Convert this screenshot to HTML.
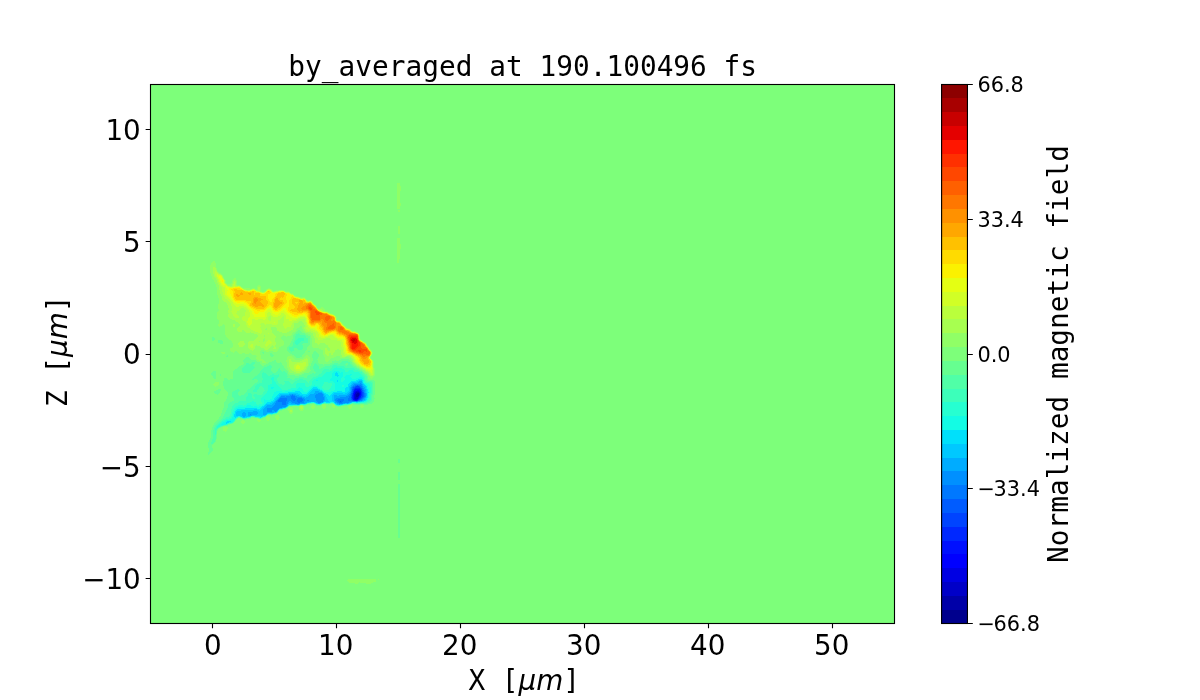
<!DOCTYPE html>
<html lang="en"><head><meta charset="utf-8"><title>by_averaged at 190.100496 fs</title>
<style>
html,body{margin:0;padding:0;background:#fff;}
body{width:1200px;height:700px;overflow:hidden;}
svg{display:block;}
text{fill:#000;}
.s{font-family:"DejaVu Sans","Liberation Sans",sans-serif;}
.m{font-family:"DejaVu Sans Mono","Liberation Mono",monospace;}
.i{font-family:"DejaVu Sans","Liberation Sans",sans-serif;font-style:italic;}
.t20{font-size:27.78px;}
.t15{font-size:20.83px;}
</style></head><body>
<svg width="1200" height="700" viewBox="0 0 1200 700">
<rect x="0" y="0" width="1200" height="700" fill="#ffffff"/>
<rect x="150" y="84" width="744" height="539" fill="#7dff7a"/>
<g shape-rendering="crispEdges" fill-rule="evenodd">
<path fill="#90ff66" d="M213.4 261l.6-.3 .7 .3 .3 .2 .2 .8 .3 1 .2 1 .1 1 0 1 .1 1 .1 .1 .7 .9 .3 1 .4 1 .2 1 .4 .9 .1 .1 .9 .9 .2 .1 .8 .3 1 .4 .5 .3 .5 .2 .9 .8 .1 .3 .4 .7 .1 1 .4 1 .1 .1 .9 .9 .1 .1 .6 .9 .2 1 .1 1 .1 .5 .4 .5 .6 .7 .5 .3 .5 .3 1 .3 1-.4 .5-.2 .5-.3 .6-.7 .4-.7 .1-.3 .2-1 .3-1 .4-.7 .2-.3 .8-1 .1 0 .9-.1 .1 .1 .8 1 .1 .1 .4 .9 .3 1 .1 1 .1 1 0 1 .1 .8 .2 .2 .8 .1 1 0 1 .2 .8 .7 .2 .1 .9 .9 .1 .1 1 .4 1 .1 1 .2 .7 .2 .3 .1 1 .3 1-.1 1 0 1 .3 1 .2 1-.3 1-.3 1 0 1 .3 .6 .5 .4 .2 1 .1 .1-.3 0-1 0-1 .3-1 .6-.9 .2-.1 .8-.5 .9 .5 .1 0 .7 1 .3 .9 .1 .1 .3 1 0 1-.3 1-.1 .6 0 .4 1 .7 1 .2 1-.3 1-.5 .1-.1 .9-1 .9-1 .1-.1 1-.7 1-.1 1 .1 1 .7 .1 .1 .9 .8 .2 .2 .8 .6 .7 .4 .3 0 .4 0 .6-.3 1-.3 1-.1 1-.1 1-.1 .8-.1 .2 0 1-.3 1-.1 1 .1 .5 .3 .5 .1 1 .7 .2 .2 .8 .2 1 0 1 0 1 .1 .9 .7 .1 .1 1 .9 1 .2 1 .2 .8 .6 .2 .2 .8 .8 .2 .2 1 .5 .6 .3 .4 .1 1 .1 1 .3 .9 .5 .1 0 1 .3 1 .2 1-.1 1-.1 1 .3 .4 .4 .6 .5 .5 .5 .5 1 0 .1 1 .6 1-.2 1-.2 1-.1 1 .6 .2 .2 .7 1 .1 .1 .6 .9 .4 .5 .5 .5 .5 .3 .7 .7 .3 .4 .5 .6 .5 1 0 .1 .9 .9 .1 .1 1 .3 1-.4 1-.6 1-.2 1 .1 1 .6 .1 .1 .7 1 .2 .9 0 .1 .7 1 .3 0 1 .2 1 .3 .7 .5 .3 .1 1 .6 .4 .3 .6 .2 1 .4 .7 .4 .3 .1 1 .2 .9 .7 .1 .1 .9 .9 .1 .3 .5 .7 .2 1 .1 1 .1 1 .1 .1 1 .1 1 .1 1 .2 .6 .5 .4 .2 .8 .8 .2 .6 .4 .4 .5 1 .1 .2 1 .6 .3 .2 .7 .3 .7 .7 .3 .4 .7 .6 .3 .3 1 .7 1 .1 1 .3 .8 .6 .2 .1 .8 .9 .2 .2 1 .7 .4 .1 .6 0 1 .1 1 .3 1 .6 1 .3 .8 .7 .2 .2 .7 .8 .2 1 .1 1 0 1 0 1 0 .3 .3 .7 .7 .9 .2 .1 .8 .3 .9 .7 .1 .1 1 .5 .6 .4 .4 .1 1 .5 .4 .4 .6 .9 .1 .1 .5 1 .4 1 1 1 .8 1 .2 .6 .3 .4 .7 .9 .1 .1 .9 1 0 .1 .7 .9 0 1 0 1-.4 1-.3 .4-.2 .6-.8 .9-.1 .1 0 1 .1 .1 1 .9 .9 1 .1 .2 .5 .8 .2 1 .1 1-.1 1-.1 1-.1 1 .3 1 .2 .3 .6 .7 .2 1 0 1-.1 1 0 1 0 1 .1 1-.1 1-.3 1-.4 .5-.3 .5-.5 1-.2 .2-1 .5-1-.1-.7-.6-.3-.7-.1-.3-.5-1-.4-.4-.5-.6-.5-.6-.4-.4-.6-.7-.4-.3-.6-.5-.7-.5-.3-.2-.9-.8-.1-.1-1-.8-.2-.1-.8-.5-1-.5-1-.7-.5-.3-.5-.3-1-.6-.2-.1-.8-.5-.7-.5-.3-.2-.9-.8-.1-.1-1-.9-.9-1-.1-.2-.4-.8-.5-1-.1-.3-.4-.7-.6-1-1-1-1-.5-1-.4-1 0-1 .3-1 .1-1 .3-.5 .2-.5 .2-1-.1-1 0-.2-.1-.8-1 0-.1-.7-.9-.3-.3-1 .2-.5 .1-.5 .1-1 .3-1 .6-1 .9-.2 .1-.8 .3-1 .1-1 .2-.4 .4-.6 .7-.2 .3-.8 1-1 .6-1 .2-1-.2-1-.6-.2-1 .1-1-.1-1-.4-1-.4-.7-.1-.3-.3-1-.3-1-.1-1 0-1-.1-1-.1-.2-.8-.8-.2-.2-1-.3-1-.5-1-.6-1-.2-1-.1-.8-.1-.2-.1-1 .1-.8 0-.2 0-1-.5-.5-.5-.5-.6-.2-.4-.2-1 .1-1 .1-1-.1-1-.2-1 0-1 .1-1 0-1-.3-1-.3-.7-.1-.3-.5-1-.4-.5-.6-.5-.4-.2-1-.2-1-.2-.8-.4-.2-.1-1-.7-.2-.2-.8-.8-.3-.2-.7-.9 0-.1-.5-1-.1-1-.1-1-.3-.5-1-.4-1 .3-.9 .6-.1 .1-.9 .9-.1 .1-1 .8-.1 .1-.9 1-.5 1-.5 .5-.7 .5-.3 .1-1 .3-.8 .6-.2 .8 0 .2-.5 1-.5 .6-1 .2-1 .1-.4 .1-.6 .2-1 .4-1-.1-.7-.5-.3-.2-1-.5-1 .3-.5 .4-.5 .4-.6 .6-.2 1 .4 1 .4 .5 .7 .5 .3 .3 .7 .7 .3 .4 .3 .6 .1 1-.1 1-.3 .5-.4 .5-.6 .7-.6 .3-.4 .4-1 .1-1 0-.7 .5-.3 .5-.1 .5-.2 1-.4 1-.3 .4-.4 .6-.6 .6-.8 .4-.2 .1-1 .1-.7-.2-.3-.1-1-.4-.7-.5-.3-.2-1-.3-1 .4-.1 .1-.9 .6-1 .3-1 0-1-.2-1-.5-.5-.2-.5-.3-1-.5-1 0-1 .5-.6 .3-.3 1 0 1 .2 1 .2 1 .2 1 .2 1 0 1 .1 .2 1 .8 1 .7 .4 .3 .6 .4 1 .6 .7 1-.3 1-.4 .2-1 .3-1-.3-.2-.2-.7-1-.1-.3-.5-.7-.5-.5-1 .1-1-.1-1-.3-.4-.2-.6-.6-.4-.4-.3-1 .3-1 .3-1-.9-.9-1 .2-1 0-.6-.3-.4-.1-1-.7-.5-.2-.5-.3-1-.4-1 .2-.7 .5-.3 .1-1 .2-1-.2-.1-.1-.9-.6-.9-.4-.1 0-.5 0-.5 0-1 .5-1 .5-1 .1-.3-.1-.7-.3-.6-.7-.4-.6-.3-.4-.7-.7-1-.2-1 .5-.4 .4-.6 .6-1 .1-1-.4-.5-.3-.5-.3-1-.5-.3-.2-.3-1 .4-1 .2-.4 .7-.6 .3-.3 1 .1 .9-.8-.3-1 0-1 .1-1-.1-1-.3-1-.3-.7-.2-.3-.8-.7-.5-.3-.5-.2-1-.4-.9-.4-.1-.1-.8-.9-.2-.4-.3-.6-.7-1-.8-1-.2-.4-.3-.6-.2-1 .1-1 .1-1 .3-1 0-.1 .2-.9 .2-1-.1-1-.3-1-.7-1-.3-.5-1-.2-.9 .7-.1 .1-.7 .9-.3 .3-1 .4-1-.3-.6-.4-.4-1 .6-1 .4-.4 .4-.6 .1-1-.4-1-.1-.1-.6-.9-.4-.6-.4-.4-.5-1 0-1 .3-1 0-1-.3-1-.1-.6-.1-.4 .1-.3 .4-.7 .6-.4 .9-.6 .1-.5 .1-.5-.1-.1-.3-.9-.4-1-.3-1 0-.6 0-.4 0-.1 .1-.9 .3-1 .3-1 .2-1 .1-.6 0-.4 0-1-.2-1-.3-1-.4-1-.1-.5-.2-.5-.2-1-.3-1-.2-1-.1-.8-.1-.2-.1-1-.2-1 0-1-.1-1 0-1-.2-1-.3-.7-.2-.3-.5-1-.3-.9 0-.1-.4-1-.5-1-.1-.2-.6-.8-.4-.6-.3-.4-.5-1-.2-.5-.2-.5-.4-1-.3-1-.1-.3-.2-.7-.2-1-.2-1-.2-1-.2-1 0-1 .1-1 .1-1 .2-1 .1-1 .2-1 .3-.7 .2-.3 .7-1 .1 0 1-.8zM233 333.9l-.2 .1 .2 .3 .5-.3zM323 344.9l-.2 .1 .1 1 .1 .1 .3-.1 0-1zM221.2 352l.8-.3 1-.2 1 .1 1 .4 .2 1-.2 .2-.9 .8-.1 .1-.8-.1-.2 0-1-.7-.7-.3zM288.3 356l.7-.4 1 0 1 .4 1 .7 .5 .3 .5 .5 .5 .5 .5 .6 .3 .4 .7 .7 .3 .3 .7 .4 1 .1 1-.1 1-.3 .3-.1 .7-.3 1-.5 .5-.2 .5-.2 1-.4 .7-.4 .3-.3 .6-.7 .4-.7 .3-.3 .7-.6 1-.3 1 .2 .9 .7 .1 .1 .4 .9 .3 1 .3 .6 .3 .4 .3 1-.4 1-.2 .3-.3 .7-.2 1-.1 1-.3 1-.1 .3-.3 .7-.5 1-.2 .3-.4 .7-.3 1-.3 .6-.2 .4-.8 .9-.1 .1-.9 .5-1 .5-1 .5-1 .4-.2 .1-.8 .4-1 .4-.6 .2-.4 .2-1 .2-1 0-1-.3-.3-.1-.7-.3-1-.3-1-.1-1-.1-1-.1-.3-.1-.7-.3-.5-.7-.5-.9 0-.1-.5-1-.5-.9 0-.1-.5-1-.2-1-.1-1 0-1-.1-1-.1-.7-.1-.3-.3-1-.2-1 .1-1 .3-1 .2-1 .3-1 .7-.8zM218.1 382l.9-.1 .1 .1 .3 1-.2 1-.2 .3-.4 .7-.6 .5-.7 .5-.3 .1-1 .4-1 .1-1-.5-.1-.1-.5-1 0-1 .4-1 .2-.2 1-.4 1-.2 1-.1 1-.1zM312.5 405l.5-.2 .5 .2 .5 .3 .5 .7 .2 1-.2 1-.5 .7-.6 .3-.4 .2-.4-.2-.6-.3-.4-.7-.3-1 .2-1 .5-.7zM322.5 405l.5-.3 1-.6 1 .2 .9 .7 .1 .7 0 .3 0 .2-.1 .8-.5 1-.4 .4-1 .4-1-.4-.3-.4-.5-1-.1-1zM332.2 405l.8-.8 1 .6 .2 .2 .8 .9 .2 .1 .3 1-.5 .9-.3 .1-.7 .3-.6-.3-.4-.3-.5-.7-.3-1zM349.8 405l.2 0 1-.1 .7 .1 .3 .8 .1 .2-.1 .5-.1 .5-.5 1-.4 .4-1 .4-1-.4-.4-.4-.5-1-.1-1 1-.5zM360.8 405l.2-.1 1-.4 1 .3 .3 .2 .4 1-.2 1-.5 .7-.8 .3-.2 .1-.2-.1-.8-.3-.5-.7-.2-1zM299.9 406l.1 0 1-.5 1-.1 1 .4 .6 .2 .4 .9 .2 .1-.1 1-.1 .2-.1 .8-.5 1-.4 .5-.7 .5-.3 .2-1 0-.3-.2-.7-.4-.5-.6-.4-1-.1-.7-.1-.3 0-1 .1 0zM288.8 408l.2-.2 1-.4 1-.1 1 .2 .6 .5 .3 1 .1 .4 .1 .6 .1 1-.2 1 0 .1-.4 .9-.6 .8-.7 .2-.3 .1-.4-.1-.6-.2-.7-.8-.3-.7-.1-.3-.3-1-.2-1-.1-1zM276.4 415l.6-.2 1-.3 .7 .5 .3 .3 .4 .7 .2 1-.1 1-.3 1-.2 .4-.5 .6-.5 .4-1 0-.5-.4-.5-.5-.3-.5-.3-1 0-1 .2-1 .4-.6zM266.8 417l.2-.2 1-.7 1 .3 .5 .6 .4 1 0 1-.2 1-.7 1-1 .5-1-.4-.1-.1-.6-1-.2-1 0-1zM257.2 419l.8-.2 1 .1 .4 .1 .6 .4 1 .6-.3 1-.6 1-.1 .1-1 .4-1-.5-.7-1-.2-1zM242.2 420l.8 0 .3 0 .7 .4 .6 .6 .1 1-.2 1-.5 .7-.6 .3-.4 .2-.4-.2-.6-.3-.5-.7-.3-1 .1-1 .7-.9zM223.4 427l.6-.3 1-.3 1 0 1 .4 .4 .2 .3 1-.1 1-.4 1-.2 .3-.5 .7-.5 .5-1 .2-1-.4-.3-.3-.5-1-.2-.7-.1-.3-.1-1 .2-.2z"/>
<path fill="#a7ff50" d="M213.6 267l.4-.5 .3 .5 .7 .5 .3 .5 .7 .8 .1 .2 .3 1 .3 1 .3 .7 .2 .3 .8 1 1 .6 .6 .4 .4 .1 1 .2 1 .6 .1 .1 .6 1 .1 1 .2 .8 .1 .2 .9 .9 .1 .1 .7 1 .2 1 0 .2 .2 .8 .3 1 .5 .8 .2 .2 .8 .6 .5 .4 .5 .4 1 .6 .1 0 .9 .1 .9-.1 .1 0 1-.5 .2-.5 .4-1 .3-1 .1-.4 .1-.6 .4-1 .5-.8 1-.1 .5 .9 .3 1 .2 1 0 .6 0 .4 .1 1 .9 .9 1-.2 1-.1 .9 .4 .1 0 1 .9 .1 .1 .9 .7 .4 .3 .6 .3 1 .5 .4 .2 .6 .2 1 .5 1 .2 1 0 1 0 1 0 1-.3 1-.4 .7-.2 .3-.1 1-.1 .4 .2 .6 .2 1 .8 1 .4 1-.2 .3-.2-.2-1 0-1 .3-1 .6-.6 .6 .6 .4 .7 .1 .3 0 1-.1 .5-.2 .5 0 1 .2 .1 .9 .9 .1 .1 1 .2 1 0 1-.1 .7-.2 .3-.2 .9-.8 .1-.1 .8-.9 .2-.2 1-.7 .3-.1 .7-.3 .8 .3 .2 .1 1 .6 .3 .3 .7 .7 .3 .3 .7 .5 1 .1 1-.2 1-.2 1-.2 .4 0 .6-.2 1-.2 1-.2 1-.1 1-.1 1 .1 1 .5 .3 .2 .7 .4 1 .5 1 0 1-.1 .8 .2 .2 0 1 .8 .3 .2 .7 .6 1 .2 .4 .2 .6 .1 .9 .9 .1 .1 .9 .9 .1 .1 1 .3 1 .3 .9 .3 .1 0 1 .3 1 .4 .5 .3 .5 .1 1 .1 1-.1 1-.1 1 .3 .8 .7 .2 .4 .5 .6 .5 1 1 .2 1-.1 .8-.1 .2-.1 1 0 .1 .1 .9 .5 .4 .5 .5 1 .1 .2 .7 .8 .3 .2 1 .7 .1 .1 .8 1 .1 .1 .7 .9 .3 .5 .5 .5 .5 .8 .4 .2 .6 .3 1 0 1 0 1 .2 .5 .5 .5 .5 .3 .5 .7 .2 1 .3 1 .1 1 .3 .1 .1 .9 .2 1 .7 .1 .1 .9 .5 .7 .5 .3 .1 1 .2 1 .2 .8 .5 .2 0 1 .7 .3 .3 .6 1 .1 1 0 .3 .1 .7 .3 1 .6 .8 1 .1 .4 .1 .6 0 1 .2 1 .8 .8 1 .2 .8 .1 .2 .8 1 .1 0 1 .4 .8 .6 .2 .3 .6 .7 .4 .7 .4 .3 .6 .3 1 .3 1 .4 1 .2 .9 .8 .1 .1 .8 .9 .2 .1 1 .2 1 .1 1 .2 .6 .4 .4 .1 1 .3 .9 .6 .1 0 1 1 .6 1 .1 1 0 1 0 1 .2 1 .1 .3 .6 .7 .4 .2 1 .6 .3 .2 .7 .4 .7 .6 .3 .1 1 .4 .7 .5 .3 .3 .7 .7 .2 1 .1 .3 .5 .7 .5 .5 .5 .5 .5 .7 .2 .3 .5 1 .3 .5 .5 .5 .5 .5 .5 .5 .5 1 0 .8 0 .2 0 .3 0 .7-.2 1-.6 1-.2 .2-.5 .8-.2 1 .7 .7 .4 .3 .6 .6 .4 .4 .4 1 .2 1 0 .6 0 .4 0 .1 0 .9-.1 1-.1 1 .2 .9 .1 .1 .6 1 .3 1-.1 1-.2 1 0 1 .1 1 0 1-.1 1-.6 1-.1 .1-1 .4-1-.4-.1-.1-.9-.8-.2-.2-.8-.9-.1-.1-.7-1-.2-.2-.9-.8-.1-.1-1-.6-.4-.3-.6-.4-.8-.6-.2-.1-1-.7-.4-.2-.6-.3-1-.6-.1-.1-.9-.6-.7-.4-.3-.2-1-.7-.2-.1-.8-.6-.5-.4-.5-.4-.7-.6-.3-.3-.7-.7-.3-.5-.3-.5-.5-1-.2-.6-.2-.4-.5-1-.3-.4-.4-.6-.6-.6-.4-.4-.6-.4-1-.5-.1-.1-.9-.2-1 .2-.1 0-.9 .6-1 .1-.7 .3-.3 .1-1 .1-.5-.2-.5-.6-.2-.4-.2-1-.2-1-.1-1 0-1-.1-1-.2-.5-.5-.5-.5-.3-1-.2-1-.1-1 0-1 .5-.2 .1-.8 1 0 .1-.6 .9-.4 .8-.3 .2-.4 1-.2 1-.1 .2-1 .4-1-.4-.4-.2 .4-.7 .2-.3-.2-.4-.3-.6-.7-.4-1 .3 0 .1-.1 1 .1 .3 .6 .7-.5 1-.1 .1-1 .2-.4-.3-.6-.5-.6-.5-.4-.4-.4-.6-.2-1-.1-1-.2-1-.1-.4-.1-.6 0-1 .1-.2 .9-.8 .1 0 .2 0 .8 .4 .3 .6 .4 1 .3 .4 .9 .6 .1 .2 .1-.2 .9-.8 .1-.2 .5-1-.5-1-.1-.1-1-.6-.4-.3-.5-1-.1-.1-.8-.9-.2-.1-1-.8-.1-.1-.9-.5-1-.4-.5-.1-.5-.1-1-.1-.8 .2-.2 .1-1 .6-.5 .3-.5 .4-1 .3-.8-.7-.2-.1-1-.9-.2 0-.8-1 .3-1 .2-1-.3-1-.2-.2-.6-.8-.4-.6-.2-.4-.3-1-.1-1-.4-.8-.1-.2-.8-1-.1 0-1-.6-1-.3-1 .1-1 .1-1-.2-.1-.1-.9-.7-.3-.3-.7-.8-.2-.2-.5-1 0-1 .3-1 .2-1-.2-1-.4-1-.2-.5-.4-.5-.6-.6-.3-.4-.7-.9-.1-.1-.9-.4-1 .3-.1 .1-.9 1-.1 0-.9 .6-1 0-1 .1-1 .2-.1 .1-.9 .8-.2 .2-.2 1 0 1 .1 1-.2 1-.4 1-.1 .2-1 .8-1 .3-1 .5-.6 .2-.4 .3-.9 .7-.1 .1-1 .8-.5 .1-.5 0-.3 0-.7-.1-1-.1-1 0-1-.2-1-.5-.1-.1-.9-.4-1-.1-1-.3-.3-.2-.7-.8-.2-.2-.2-1-.1-1-.5-.3-1-.4-.7-.3-.3-.1-1-.1-1 .1-.3 .1-.7 .7-.3 .3-.1 1 .4 .4 .4 .6 .6 .8 .1 .2 .2 1 .3 1 .4 .4 .4 .6 .6 .8 .2 .2 .8 .7 .4 .3 .6 .8 .1 .2-.1 .5-.1 .5-.8 1-.1 .2-.2 .8 .2 1 0 .1 .4 .9 .3 1 .1 1-.2 1-.5 1 .3 1 .4 1-.3 1-.5 .5-1-.1-.5-.4-.2-1 .6-1 .1-.2 .7-.8-.7-.2-1-.6-1 .2-.8 .6-.2 .2-.6 .8-.4 .4-.5 .6-.5 .8-.1 .2-.9 .9-.3 .1-.7 .1-1 0-.2-.1-.8-.4-.9-.6-.1-.2-1-.7-1 .1-.5-.2-.5-.2-1-.8-1-1-1-.3-1-.2-1-.3-.6 .8-.3 1-.1 .1-.3 .9-.3 1-.4 .8-.2 .2-.8 .5-1 .1-1-.3-.5-.3-.5-.4-.8-.6-.2-.3-.8-.7-.2-1 .1-1-.1-.5-.2-.5-.5-1 .5-1 .2-.2 .4-.8 .6-.4 1-.3 1-.1 1 0 1-.1 .2-.1 .8-.5 .4-.5 .6-.9 .1-.1 .9-.9 .1-.1 .9-.8 .2-.2 .8-1 .1-1-.1-.1-1-.5-1-.1-.9-.3-.1 0-1-.5-.7-.5-.3-.1-1-.3-1-.1-1 0-1 .2-.7 .3-.3 .1-1 .2-.8-.3-.2-.2-.4-.8-.5-1-.1-.1-1-.8-.5-.1-.5-.1-.2 .1-.7 1-.1 .2-.7 .8-.3 .1-1 0-.4-.1-.6-.1-1-.4-.6-.5-.4-.6-.2-.4-.1-1 .3-.7 .2-.3 .8-.6 .7-.4 .3-.2 .7-.8 .1-1-.5-1-.3-.3-.8-.7-.2-.2-1-.7-.1-.1-.9-.8-.2-.2-.8-.5-.8-.5-.2-.1-1-.2-1-.3-1-.4-1-.4-.8-.6-.2-.1-.8-.9-.2-.8 0-.2 0-.1 .2-.9 .4-1 0-1-.2-1-.1-1 .1-1 .3-1 0-1-.4-1-.3-.8-.1-.2-.3-1-.5-1-.1-.3-.6-.7-.4-.3-1-.6-.3-.1-.7-.3-1-.7-.5-1-.2-1-.1-1-.2-.8-.1-.2-.4-1-.5-.9 0-.1-.6-1-.3-1-.1-.2-.2-.8-.2-1-.1-1 0-1-.2-1-.1-1-.2-1-.4-1-.5-1-.1-.2-.4-.8-.4-1-.2-.5-.2-.5-.4-1-.4-.8-.1-.2-.7-1-.2-.4-.4-.6-.5-1-.1-.3-.3-.7-.3-1-.2-1-.1-1-.1-.8 0-.2-.1-1 0-1 .1-1zM259 340.7l-.1 .3 .1 .2 .9 .8 .1 .1 .2-.1 .4-1-.6-.4zM264 334.9l-.1 .1-.3 1 .2 1 0 1-.5 1-.3 .5-.3 .5-.3 1 .6 .8 1 0 .5-.8 .3-1 0-1-.5-1 .4-1 .3-.2 .3-.8-.3-1 0-.1zM265 328.9l-.1 .1 0 1 .1 .2 1 .3 .8-.5 .2-.4 .4-.6-.4-.4-1-.2zM233 324l1-.5 .8 .5 .2 .1 .4 .9 .1 1-.5 .7-1 .1-1-.5-.2-.3-.1-1zM242.1 335l.9-.9 .5 .9-.5 .5zM241.3 341l.7-.3 1-.2 1 .4 .2 .1 0 1 .2 1 .6 1-.2 1-.8 .8-.1 .2-.9 .8-.8 .2-.2 0-.4 0-.6-.1-1-.1-1-.2-.4-.6-.1-1-.1-1 .2-1 .4-.5 .6-.5 .4-.2 1-.6zM289.2 359l.8-.9 .5 .9 .1 1 .4 .6 .3 .4 .7 .4 1 .5 .4 .1 .6 .2 1 .2 1-.1 1-.1 1-.2 .4 0 .6-.1 1-.2 1-.5 .4-.2 .6-.4 1-.5 .2-.1 .8-.3 1-.4 .6-.3 .4-.3 1-.4 .6 .7 0 1 0 1 .3 1 .1 .4 .1 .6 0 1-.1 .5-.2 .5-.5 1-.3 .4-.4 .6-.5 1-.1 .2-.4 .8-.6 1-1 .7-.4 .3-.6 .3-1 .4-.7 .3-.3 .1-1 .4-1 .3-.7 .2-.3 .1-.8-.1-.2 0-1-.5-.9-.5-.1-.1-1-.4-1-.3-.6-.2-.4-.4-.6-.6-.4-.5-.4-.5-.6-.7-.1-.3-.5-1-.4-.9 0-.1-.1-1 0-1 .1-.4 .1-.6 .2-1 0-1-.3-1zM323.8 405l.2-.1 .2 .1 .3 1-.5 .6-.5-.6zM300.7 406l.3-.2 1 0 .5 .2 .5 .9 0 .1 0 1 0 .1-.3 .9-.7 .7-1 .1-.7-.8-.3-.7-.1-.3 0-1 .1-.1zM349.5 406l.5-.3 .7 .3-.7 .8zM290.3 410l.7-.5 .5 .5 .4 1-.5 1-.4 .3-.4-.3-.6-1 0-.1zM224.6 428l.4-.5 .5 .5-.2 1-.3 .3-.2-.3z"/>
<path fill="#baff3c" d="M214.9 272l.1-.6 1-.1 .3 .7 .7 .7 .2 .3 .8 .6 .6 .4 .4 .2 1 .3 1 .3 .4 .2 .6 .5 .3 .5 .2 1 .2 1 .3 .5 .5 .5 .5 .5 .4 .5 .3 1 0 1 .3 1 0 .1 .6 .9 .4 .4 .7 .6 .3 .2 1 .8 .1 0 .9 .4 1 .2 1 0 1 0 1-.5 .1-.1 .2-1 .2-1 .2-1 .3-1 1 0 .3 1 .1 1 0 1 .1 1 .5 .3 1 0 1-.1 1-.1 1 .3 .7 .6 .3 .3 .8 .7 .2 .2 1 .6 .3 .2 .7 .3 1 .5 .3 .2 .7 .2 1 0 1 .1 1 0 1 0 1-.2 .3-.1 .7-.4 1-.4 1 0 1 .4 .6 .4 .4 .3 1 .6 .4 .1 .6 .1 1 .1 1 .5 .2 .3 .8 .4 1 .2 1 .1 1-.2 1-.3 .2-.2 .8-.7 .2-.3 .8-.8 .3-.2 .7-.6 1-.3 1 .3 .8 .6 .2 .2 .7 .8 .3 .3 1 .7 1 .1 .6-.1 .4-.1 1-.4 1-.2 1-.1 1-.2 .2 0 .8-.2 1-.1 1-.1 1 0 .6 .4 .4 .2 1 .6 .4 .2 .6 .2 1 .1 1-.1 1 .2 .7 .6 .3 .2 .9 .8 .1 .1 1 .1 1 .3 .5 .5 .5 .6 .4 .4 .6 .4 1 .4 .5 .2 .5 .1 1 .2 1 .4 .6 .3 .4 .2 1 .3 1 0 1-.2 1 0 1 .3 .4 .4 .6 .9 0 .1 .7 1 .3 .3 1 .2 1-.2 1-.1 1 0 .9 .8 .1 .1 .6 .9 .4 .8 .2 .2 .8 .5 .6 .5 .4 .3 .7 .7 .3 .5 .4 .5 .6 1 .8 1 .2 .2 1 .7 .4 .1 .6 .1 1 .3 .9 .6 .1 0 1 .4 1 .5 .6 .1 .4 0 1 .1 1 .1 1 .4 .6 .4 .4 .3 .9 .7 .1 0 1 .4 1 .2 1 .4 1 .3 .9 .7 .1 .1 .6 .9 .2 1 .1 1 .1 1 0 .1 .8 .9 .2 .1 1 .1 1 0 1 .3 .6 .5 .4 .4 .4 .6 .4 1 .2 .4 .5 .6 .5 .3 1 .5 .2 .2 .8 .8 .2 .2 .6 1 .2 .2 1 .6 .5 .2 .5 .1 1 .1 1 .4 .5 .4 .5 .6 .4 .4 .6 .4 1 .3 1 .1 .7 .2 .3 .1 1 .2 1 .5 .4 .2 .6 .3 .7 .7 .3 .6 .2 .4 .2 1 0 1 .1 1 .1 1 .4 .8 .1 .2 .9 .5 .8 .5 .2 .1 1 .7 .3 .2 .7 .3 1 .6 .2 .1 .8 .7 .3 .3 .4 1 .3 1 1 1 .9 1 .1 .3 .4 .7 .6 1 1 .9 .1 .1 .6 1 .1 1 0 1-.3 1-.5 .8-.1 .2-.8 1-.1 .3-.1 .7 .1 .1 .8 .9 .2 .1 .9 .9 .1 .1 .5 .9 .2 1 0 1 0 1-.2 1 0 1 .1 1 .4 .6 .3 .4 .2 1-.1 1-.2 1-.1 1 .1 1-.1 1-.1 .4-.7 .6-.3 .1-.3-.1-.7-.3-.8-.7-.2-.2-.5-.8-.5-.7-.3-.3-.7-.6-.6-.4-.4-.2-1-.5-.4-.3-.6-.3-1-.6-.1-.1-.9-.6-.7-.4-.3-.2-1-.6-.3-.2-.7-.4-.8-.6-.2-.1-1-.8-.1-.1-.9-.8-.3-.2-.7-.6-.5-.4-.5-.6-.3-.4-.5-1-.2-.5-.2-.5-.5-1-.3-.6-.3-.4-.7-1-1-1-1-.5-1-.3-1-.2-1 .4-1 .5-.9 .1-.1 0-.9-1-.1-.5-.1-.5-.6-1-.3-1-.2-1-.1-1-.2-1-.4-1-.1-.1-.9-.9-.1-.2-.3-.8 .1-1 .1-1 0-1-.4-1-.5-.4-1-.4-.6-.2-.4-.1-1-.3-1-.5-.2-.1-.8-.3-1-.1-1 .2-1 .1-1-.6-.3-.3-.7-.7-.3-.3-.7-.3-1 .1-1 .2-1 .4-.9 .6-.1 .1-1 .3-1 0-1 .3-.6 .3-.4 .2-1 .3-1-.4-.1-.1-.9-1-.8-1-.2-.3-.4-.7-.2-1 0-1 .1-1-.4-1-.1-.1-1-.6-.6-.3-.4-.2-1-.5-.5-.3-.5-.2-1-.3-1-.1-1 .1-1 .1-1-.5-.1-.1-.7-1 0-1 .4-1 .1-1-.4-1-.3-.8-.1-.2-.2-1-.2-1-.3-1-.2-.8-.1-.2-.7-1-.2-.1-1-.3-1 0-1 0-1 .3-.1 .1-.9 .5-.8 .5-.2 .2-1 .5-.8 .3-.2 .1-1 .2-1 .3-.6 .4-.4 .3-.5 .7-.5 .9 0 .1-.4 1-.2 1-.2 1-.2 .4-1 .2-.7-.6-.3-.2-1 0-.2 .2-.7 1-.1 .1-1 .6-1 .1-.9-.8-.1-.2-.2-.8-.3-1-.2-1-.1-1 .2-1 .3-1 0-1 .1-1 .2-.6 .1-.4 .2-1 0-1-.3-.7-1-.1-.6 .8-.4 .5-.4 .5-.6 1-1 .6-1 .2-.8 .2-.2 .3-.1 .7 .1 .9 0 .1 0 1 0 .1-.3 .9-.7 .9-.2 .1-.8 .4-1 .1-1-.2-1-.3-1-.4-1-.3-.9-.3-.1-.1-1-.1-1 0-.5 .2-.5 .2-1 .5-1 0-.9-.7-.1 0-1-1-1-.6-1 .4-.2 .2-.5 1 .2 1 .1 1-.1 1-.1 1 .5 1 .1 .1 .8 .9 .2 .6 .1 .4 0 1-.1 .3-.2 .7-.8 .9-1-.3-.9-.6-.1 0-1-.4-1-.3-1-.3-1-.5-1-.4-.2-.1-.8-.3-1-.4-.7-.3-.3-.2-.7-.8-.3-.4-.7-.6-.3-.1-1-.6-.3-.3-.7-.9 0-.1-.5-1-.3-1-.2-.9 0-.1-.4-1-.6-.8-.7-.2-.3-.1-1-.5-.3-.4-.4-1-.3-1 .1-1 .9-.5 .9-.5 .1 0 1-.8 .3-.2-.1-1 0-1 .5-1 .2-1-.3-1-.6-.9 0-.1-1-.9-.3-.1-.7-.3-1 .1-.5 .2-.5 .5-.6 .5-.4 .6-.5 .4-.5 .3-1 .7-1 .9-.1 .1-.5 1 0 1 .6 1 1 .7 .7 .3 .3 .4 .3 .6-.3 .3-.5 .7-.5 .3-1 .1-1-.2-.3-.2-.7-.6-.5-.4-.5-.7-.2-.3-.6-1-.2-.3-.3-.7-.7-1-.5-1-.1-1 .4-1 .2-.5 .3-.5-.1-1-.2-.8-.1-.2-.3-1-.3-1-.3-1-.8-1-.2-.2-.7-.8-.3-.3-.6-.7-.4-.4-.8-.6-.2-.2-1-.7-.1-.1-.8-1-.1-.1-.6-.9-.4-.6-.2-.4-.5-1-.3-.7-.1-.3-.3-1-.1-1 0-1 0-1 0-1-.4-1-.1-.2-.5-.8-.5-.5-.3-.5-.6-1-.1-.2-.4-.8-.6-1-.5-1-.4-1-.1-.5-.2-.5-.3-1-.5-1-.7-1-.3-.5-.3-.5-.4-1-.3-1 0-.2-.1-.8zM269 316l-.8 1-.1 1 .1 1 .5 1 .3 .5 .6 .5 .4 .4 .5-.4 .4-1 .1-1 0-.2 .1-.8-.1-1 0-.1-.8-.9-.2-.1zM282.7 330l.3-.2 .5 .2-.5 .2zM267.4 333l.6-.4 .7 .4-.2 1-.5 .2-.3-.2zM268.7 340l.3-.2 .6 .2 .4 .1 1 .9 .1 0 .8 1-.5 1-.4 .3-1 .7-1 .9-.1 .1-.9 1-1 .9-1 .1-.8-1-.2-1 .6-1 .4-.8 .1-.2 .5-1 .4-.6 .3-.4 .7-.7zM250.8 344l.2-.2 1-.5 1 .5 .1 .2 .3 1-.1 1-.2 1-.1 .2-.7 .8-.3 .2-.7-.2-.3-.2-.5-.8-.1-1 .1-1zM303.5 362l.5-.2 1 0 .3 .2 .7 .5 .4 .5 .2 1-.5 1-.1 .2-1 .8-.8 1-.2 1 0 .1-.4 .9-.6 .6-.4 .4-.6 .3-1 .4-1 .2-.2 .1-.8 .2-1 .2-1-.1-.6-.3-.4-.2-1-.7-.1-.1-.7-1-.2-1 0-.2 0-.8 0-.3 .1-.7 .5-1 .4-.4 1-.6 1-.4 1-.2 1-.1 1-.1 1-.2 1-.2 1-.5zM300.8 407l.2-.3 1 0 .2 .3 0 1-.2 .4-1 .1-.2-.5z"/>
<path fill="#d1ff26" d="M216.8 274l.2-.1 .2 .1 .8 .4 1 .3 1 .2 .4 .1 .6 .3 .8 .7 .2 .4 .1 .6 .2 1 .7 1 1 1 .3 1 .1 1 .1 1 .5 .9 .1 .1 .9 .9 .1 .1 .9 .7 .4 .3 .6 .5 1 .4 .4 .1 .6 .1 1 0 1 0 1 0 .5-.1 .5-.6 1 .2 1 .2 1-.1 1-.2 1-.1 1 .4 .2 .2 .8 .7 .4 .3 .6 .6 .6 .4 .4 .2 1 .4 .6 .4 .4 .2 1 .2 1 .1 1 0 1 .1 1 0 1-.2 1-.4 1-.5 1-.1 1 .5 .1 .1 .9 .7 .5 .3 .5 .2 1 .2 1 .2 .6 .4 .4 .2 1 .5 1 .3 1 0 .2 0 .8-.2 1-.3 .6-.5 .4-.4 .5-.6 .5-.5 .6-.5 .4-.3 1-.3 1 .3 .4 .3 .6 .6 .3 .4 .7 .7 .4 .3 .6 .3 1 .2 1-.3 .7-.2 .3-.1 1-.3 1-.1 1-.2 1-.1 1-.1 .5-.1 .5-.1 1 .1 1 .4 .8 .6 .2 .1 1 .4 1 0 1 0 1 .2 .4 .3 .6 .6 .4 .4 .6 .5 1 0 1 .3 .2 .2 .7 1 .1 .1 1 .7 .5 .2 .5 .2 1 .2 1 .2 .9 .4 .1 0 1 .4 1 .4 1 .1 1-.3 1-.1 1 .5 .8 1 .2 .4 .4 .6 .6 .7 1 .1 1-.3 1-.1 1 0 .7 .6 .3 .6 .3 .4 .6 1 .1 .2 1 .6 .2 .2 .8 .5 .4 .5 .6 .8 .1 .2 .7 1 .2 .3 .6 .7 .4 .6 .6 .4 .4 .2 1 .4 .9 .4 .1 0 1 .4 1 .6 1 .1 1 .1 1 0 1 .2 1 .5 .1 .1 .9 .6 .5 .4 .5 .3 1 .4 1 .2 .2 .1 .8 .2 1 .4 .6 .4 .4 .5 .4 .5 .2 1 .1 1 .1 1 .2 .6 .4 .4 .6 .3 1 .1 1 .1 1 .3 .2 .2 .8 .9 .1 .1 .5 1 .4 .9 .1 .1 .9 .6 .7 .4 .3 .1 .8 .9 .2 .3 .5 .7 .5 .5 .7 .5 .3 .1 1 .2 1 .2 1 .5 .1 0 .8 1 .1 .1 1 .6 .9 .3 .1 0 1 .1 1 .1 1 .4 .8 .4 .2 .1 1 .4 .5 .5 .5 1 0 .3 .2 .7 0 1 0 1 .2 1 .5 1 .1 .1 1 .6 .4 .3 .6 .3 .9 .7 .1 .1 1 .5 .7 .4 .3 .1 1 .9 0 .1 .4 .9 .4 1 .2 .3 .7 .7 .3 .2 .7 .8 .3 .9 .1 .1 .7 1 .2 .2 .8 .8 .2 .2 .5 .8 .2 1-.1 1-.3 1-.3 .4-.4 .6-.6 .8-.2 .2-.1 1 .3 .5 .5 .5 .5 .4 .6 .6 .4 .6 .2 .4 .3 1 0 1-.1 1-.2 1-.1 1 .2 1 .5 1 .2 .6 .1 .4-.1 .6-.2 .4-.6 1-.2 1 0 .8-1 0-.4-.8-.6-.5-.6-.5-.4-.2-1-.5-.5-.3-.5-.2-1-.5-.6-.3-.4-.2-1-.6-.4-.2-.6-.4-1-.6-1-.6-.6-.4-.4-.3-.9-.7-.1-.1-1-.9-1-.9-.1-.1-.9-.8-.2-.2-.7-1-.1-.3-.3-.7-.3-1-.4-.9-.1-.1-.6-1-.3-.3-.7-.7-.3-.2-1-.7-.2-.1-.8-.3-1-.1-1-.1-1 .2-1-.5-.2-.2-.6-1-.2-.3-.4-.7-.2-1-.1-1 .1-1-.1-1-.3-.7-.2-.3-.8-.7-.2-.3-.3-1 .1-1 .1-1-.1-1-.3-1-.3-.6-.9-.4-.1 0-1-.2-1-.1-1-.3-.7-.4-.3-.2-1-.7-.2-.1-.8-.7-.4-.3-.6-.8-.2-.2-.8-.7-1-.1-1 0-1 .2-1 .4-.5 .2-.5 .3-1 .5-.6 .2-.4 .2-1 .3-1 .3-1 0-1-.1-1-.1-1-.5-.2-.1-.8-.9-.1-.1-.3-1-.1-1-.4-1-.1-.2-.6-.8-.4-.4-.9-.6-.1 0-1-.6-.7-.4-.3-.2-1-.4-1-.2-.7-.2-.3-.1-1-.2-1-.6-.1-.1-.5-1-.3-1-.1-.1-.5-.9-.5-1-.4-1-.1-1-.1-1-.2-1-.2-.8-.1-.2-.5-1-.4-.4-1-.6-1-.1-1 .1-.2 0-.8 .2-1 .4-.7 .4-.3 .2-1 .4-.9 .4-.1 .1-1 .4-1 .2-1 0-1 .2-.2 .1-.8 .6-.6 .4-.4 .4-1 .1-.2-.5-.6-1-.2-.3-1-.6-1 .3-.7-.4-.1-1 .1-1-.3-.8-.1-.2-.4-1-.5-.7-.2-.3-.8-.9-.1-.1-.9-.5-1 .1-.5 .4-.5 .7-.2 .3-.2 1-.6 .9-.2 .1-.8 .3-1 .4-.7 .3-.3 .1-1 .3-1 .1-1-.3-.3-.2-.7-.6-.3-.4-.7-.8-.2-.2-.7-1-.1-.1-.5-.9-.5-.9-.3-.1-.7-.1-.2 .1-.8 .6-.3 .4-.6 1-.1 .3-.2 .7-.1 1-.2 1-.2 1-.3 .7-.3 .3-.7 .5-1 .2-1-.1-1-.3-1-.2-1 .1-1 .2-1 .2-1 .3-1 .1-1-.4-1-.6-.1 0-.9-.1-.1 .1-.8 1 .2 1 .1 1-.2 1-.2 .2-.4 .8-.6 .9-.1 .1-.9 .8-1 0-1-.8 0-.1-.3-.9-.2-1-.1-1 0-1 .3-1 .3-.7 .2-.3 .6-1 .2-.4 .3-.6 .5-1 .2-.7 .1-.3 .1-1-.1-1-.1-.3-.3-.7-.7-1-.9-1-.1-.1-.8-.9-.2-.3-.7-.7-.3-.3-.9-.7-.1-.1-1-.7-.4-.2-.6-.3-1-.1-1 .2-.5 .2-.5 .2-1 .3-1 .3-1 .1-1-.2-1-.7-.6-1-.4-.7-.1-.3-.8-1-.1-.1-.8-.9-.2-.3-.7-.7-.3-.4-.6-.6-.4-.4-.7-.6-.3-.3-.7-.7-.3-.4-.6-.6-.4-.4-.7-.6-.3-.2-.7-.8-.3-.6-.2-.4-.1-1 .1-1 .2-1 0-.1 .1-.9 .1-1-.2-1 0-.1-.9-.9-.1-.1-1-.7-.3-.2-.7-.6-.4-.4-.6-.9-.1-.1-.6-1-.3-.3-.4-.7-.4-1-.2-.9 0-.1-.3-1-.4-1-.3-.6-.2-.4-.6-1-.2-.4-.3-.6zM273.6 322l.4-.5 1 .3 .1 .2 .1 1-.2 .2-1-.1-.1-.1zM285.6 324l.4-.3 .3 .3-.3 .9zM296 366l1-.6 1-.3 1 0 .9 .9 .1 .3 .1 .7 0 1-.1 .2-.9 .8-.1 0-1 .2-1-.1-.1-.1-.9-.6-.2-.4-.2-1 .4-1z"/>
<path fill="#e4ff13" d="M218.9 276l.1-.1 1-.1 1 .2 .4 1 .3 1 .3 .3 .4 .7 .6 .6 .4 .4 .6 1 .1 1 0 1 .2 1 .7 1 0 .2-1-.1-.2-.1-.8-.5-.5-.5-.5-.6-.3-.4-.7-.9-.1-.1-.5-1-.3-1-.1-.3-.2-.7-.2-1-.3-1-.3-.8zM225.3 286l.7-.1 .2 .1 .8 .5 1 .4 .1 .1 .9 .5 1 0 1 0 1 0 1 0 1-.2 1-.1 1 0 1-.2 .1 0 .9-.2 1-.1 .7 .3 .3 .2 1 .8 1 .9 .1 .1 .9 .5 1 .4 .1 .1 .9 .5 1 .2 1 .1 1 0 1 .1 1 0 1-.2 1-.4 .5-.3 .5-.2 1-.1 .6 .3 .4 .3 1 .7 1 .5 1 .2 1 .3 1 .5 1 .4 .2 .1 .8 .3 1 .1 1-.2 .3-.2 .7-.3 .9-.7 .1-.1 .8-.9 .2-.2 1-.8 1-.3 .9 .3 .1 .1 1 .9 0 .1 .9 .9 .1 .1 1 .6 1 .1 1-.2 1-.3 .7-.3 .3-.1 1-.2 1-.2 1-.1 1-.1 1-.1 1 .1 1 .4 .5 .3 .5 .4 1 .4 1 0 1 0 .9 .2 .1 .1 .9 .9 .1 .1 1 .8 1-.1 .5 .2 .5 .3 .6 .7 .4 .5 .8 .5 .2 .1 1 .3 1 .2 1 .3 .2 .1 .8 .3 1 .4 .7 .3 .3 .1 1 0 .5-.1 .5-.1 1-.1 .5 .2 .5 .3 .5 .7 .5 .8 .1 .2 .9 1 1 .1 .2-.1 .8-.3 1-.1 1 .1 .4 .3 .6 1 .6 1 .4 .4 .8 .6 .2 .1 1 .7 .2 .2 .7 1 .1 .2 .6 .8 .4 .6 .3 .4 .7 .9 .2 .1 .8 .4 1 .6 .1 0 .9 .3 1 .5 .3 .2 .7 .2 1 .1 1 .1 1 0 1 .3 .7 .3 .3 .2 1 .7 .1 .1 .9 .5 1 .5 .2 0 .8 .1 1 .3 1 .4 .2 .2 .8 .8 .1 .2 .4 1 0 1 .1 1 .4 1 1 .5 1 .1 1 .1 .8 .3 .2 .1 .8 .9 .2 .3 .4 .7 .4 1 .2 .2 1 .6 .3 .2 .7 .4 .6 .6 .4 .7 .2 .3 .8 .9 .2 .1 .8 .3 1 .2 1 .2 .6 .3 .4 .3 .7 .7 .3 .3 1 .7 1 .2 1 0 1 .2 1 .4 .4 .2 .6 .2 1 .5 .3 .3 .5 1 .2 1 0 1 0 1 0 .2 .2 .8 .5 1 .3 .3 1 .6 .1 .1 .9 .5 .6 .5 .4 .3 1 .5 .3 .2 .7 .4 .7 .6 .3 .6 .2 .4 .4 1 .4 .5 .5 .5 .5 .5 .5 .5 .4 1 .1 .3 .5 .7 .5 .4 .6 .6 .4 .5 .3 .5 .2 1-.1 1-.4 1-.6 1-.4 .5-.4 .5-.2 1 .6 .9 .1 .1 .9 .7 .3 .3 .6 1 .1 .2 .2 .8 0 1-.1 1-.1 .7-.1 .3-.2 1 .1 1 .2 .5 .2 .5 0 1-.2 .3-1 .4-1 0-1-.2-1-.4-.4-.1-.6-.2-1-.4-.9-.4-.1 0-1-.6-.6-.4-.4-.3-1-.6-.2-.1-.8-.5-.7-.5-.3-.2-.8-.8-.2-.3-.7-.7-.3-.3-.9-.7-.1-.1-.8-.9-.2-.4-.3-.6-.2-1-.3-1-.2-.3-.5-.7-.5-.5-.5-.5-.5-.4-.9-.6-.1-.1-1-.5-1-.3-1 .1-1-.1-.4-.1-.6-.3-.7-.7-.3-.6-.2-.4-.2-1-.1-1 .1-1-.1-1-.2-1-.3-.6-.2-.4-.6-1-.1-1 0-1-.1-.6-.1-.4-.1-1-.1-1-.3-1-.4-.4-1-.1-1 .1-1 0-1-.3-.6-.3-.4-.2-1-.6-.3-.2-.7-.5-.5-.5-.5-.6-.3-.4-.7-.9-.3-.1-.7-.2-.9 .2-.1 0-1 .2-1 .1-1 .5-.4 .2-.6 .3-1 .6-.3 .1-.7 .2-1 .2-1 .2-1 0-1-.3-.4-.3-.6-.5-.4-.5-.5-1-.1-.2-.4-.8-.6-1-1-.9-.1-.1-.9-.7-.4-.3-.6-.7-.4-.3-.6-.6-1-.2-1 0-.7-.2-.3 0-1-.4-1-.6-.9-1-.1-.2-.5-.8-.5-.7-.2-.3-.4-1-.1-1-.1-1-.1-1-.1-.3-.1-.7-.4-1-.5-1-1-1-1-.5-1 0-1 .2-1 .2-.2 .1-.8 .3-1 .6-.2 .1-.8 .4-1 .4-.4 .2-.6 .2-1 .2-1-.3-.5-.1-.5-.2-1-.2-1-.4-.3-.2-.7-.7-.3-.3-.7-.9-.1-.1-.9-.5-.7-.5-.3-.2-.6-.8-.4-.5-.3-.5-.6-1-.1-.1-1-.5-1 .1-1 .5-.1 0-.9 .6-.6 .4-.4 .4-.6 .6-.4 .6-.5 .4-.5 .5-.9 .5-.1 .1-1 0-.4-.1-.6-.3-1-.6-.1-.1-.9-.7-.3-.3-.6-1-.1-.2-.4-.8-.5-1-.1-.1-1-.9-1 .1-1 .7-.2 .2-.8 .9-.1 .1-.9 1-1 1-.1 0-.4 1 .1 1 .2 1-.4 1-.4 .4-1 0-1-.2-1-.1-1-.1-1 0-1 .1-1 .3-1 .1-1-.4-.1-.1-.9-1-.8-1-.2-.3-.4-.7-.3-1-.3-.8-.1-.2-.7-1-.2-.2-.8-.8-.2-.3-.5-.7-.5-.6-.3-.4-.7-.8-.2-.2-.8-.8-.3-.2-.7-.4-1-.6-1-.6-.7-.4-.3-.1-1-.2-1 .1-.8 .2-.2 0-1 .3-1 0-.9-.3-.1 0-1-.4-.8-.6-.2-.1-1-.8-.1-.1-.8-1-.1-.1-.6-.9-.4-.8-.2-.2-.7-1-.1-.1-1-.9-1-.9-.1-.1-.9-.8-.3-.2-.7-.7-.2-.3-.1-1 .3-.6 .3-.4 .4-1-.2-1-.3-1-.2-.6-.1-.4-.8-1-.1-.1z"/>
<path fill="#fbf100" d="M221.6 280l.4-.3 .5 .3 .5 .4 .2 .6-.2 1-1-.8-.2-.2zM229.5 288l.5-.1 1-.1 1 .1 1 0 1-.2 1-.2 1 0 1-.1 1-.2 1-.1 1 .6 .3 .3 .7 .6 .5 .4 .5 .3 1 .5 .5 .2 .5 .3 1 .5 1 .2 .2 0 .8 .1 1 0 1 .1 1 0 .8-.2 .2-.1 1-.3 1-.6 .8 0 .2 0 1 .7 .5 .3 .5 .4 1 .4 1 .2 1 .3 1 .4 .5 .3 .5 .3 1 .4 1 0 1-.1 1-.6 1-.7 .3-.3 .7-.8 .2-.2 .8-.7 .8-.3 .2 0 .1 0 .9 .5 .5 .5 .5 .6 .4 .4 .6 .7 .9 .3 .1 .1 1 .2 .7-.3 .3 0 1-.3 1-.3 .9-.4 .1 0 1-.2 1-.1 1-.1 1-.1 1 0 1 .4 .1 .1 .9 .7 .8 .3 .2 .1 1 .1 1-.1 1 .6 .3 .3 .7 1 1 .6 1-.3 1 .4 .2 .3 .8 .8 .3 .2 .7 .4 1 .3 1 .2 .4 .1 .6 .2 1 .4 1 .4 1 .4 1 0 1-.3 1-.1 1 .6 .3 .4 .5 1 .2 .3 .6 .7 .4 .3 1 0 .8-.3 .2-.1 1-.1 1 .1 .1 .1 .7 1 .2 .3 .4 .7 .6 .7 .5 .3 .5 .3 .9 .7 .1 .1 .6 .9 .4 .5 .4 .5 .6 .9 .1 .1 .8 1 .1 .1 1 .6 .6 .3 .4 .2 1 .4 .8 .4 .2 .1 1 .3 1 .1 1 .1 1 0 1 .3 .2 .1 .8 .4 .8 .6 .2 .2 1 .5 .6 .3 .4 .2 1 .1 1 .3 .9 .4 .1 .1 .9 .9 .1 .2 .3 .8 .1 1 .1 1 .3 1 .2 .3 1 .4 1 .1 1 .1 .3 .1 .7 .4 .6 .6 .4 .7 .1 .3 .5 1 .4 .4 .9 .6 .1 .1 1 .5 .4 .4 .6 1 0 .1 .8 .9 .2 .2 1 .3 1 .2 1 .2 .1 .1 .9 .5 .4 .5 .6 .6 .6 .4 .4 .2 1 .2 1 0 1 .2 .9 .4 .1 0 1 .4 1 .6 .7 1 .1 1 0 1 0 1 .2 1 .5 1 .5 .5 .8 .5 .2 .1 1 .6 .4 .3 .6 .5 .9 .5 .1 0 1 .6 .5 .4 .5 1 0 .1 .3 .9 .7 .8 .2 .2 .8 .7 .3 .3 .4 1 .3 .6 .3 .4 .7 .6 .4 .4 .6 .8 .1 .2 .2 1-.1 1-.2 .6-.2 .4-.6 1-.2 .2-.6 .8-.2 1 .5 1 .3 .3 1 .7 .6 1 .3 1 0 1-.2 1-.3 1-.1 1-.1 1-.2 1-1 .2-1-.2-.2 0-.8-.1-1-.2-1-.2-1-.4-.2-.1-.8-.5-.8-.5-.2-.1-1-.6-.4-.3-.6-.5-.6-.5-.4-.5-.4-.5-.6-.7-.3-.3-.7-.9-.1-.1-.6-1-.3-.8 0-.2-.4-1-.6-.6-.3-.4-.7-.6-.4-.4-.6-.5-.7-.5-.3-.2-1-.5-.6-.3-.4-.2-1-.2-1 0-1-.2-.6-.4-.4-.5-.3-.5-.2-1-.1-1 0-1 0-1-.2-1-.2-.7-.1-.3-.5-1-.3-1-.1-1 0-.1 0-.9-.1-1-.2-1-.2-1-.4-1-.1-.1-1-.6-1-.1-1 .1-1 0-.6-.3-.4-.1-1-.5-.9-.4-.1 0-1-.9-.1-.1-.6-1-.3-.6-.3-.4-.7-.4-1 .1-1 .3-.1 0-.9 .3-1 .2-1 .5-1 .5-.8 .5-.2 .1-1 .3-1 .1-1 .1-1-.2-.6-.4-.4-.3-.5-.7-.4-1-.1-.3-.2-.7-.8-.9-.1-.1-.9-.6-.5-.4-.5-.5-.5-.5-.3-1 .2-1 0-1-.4-.3-.9 .3-.1 0-1 .7-.8 .3-.2 .1-1 .1-1-.2-1-.4-.8-.6-.2-.2-.6-.8-.4-.5-.4-.5-.5-1-.1-.6-.1-.4 0-1-.1-1-.2-1-.3-1-.3-.8-.1-.2-.5-1-.4-.9-.2-.1-.8-.5-1-.2-1 .1-1 .3-1 .2-.6 .1-.4 .1-1 .5-.8 .4-.2 .1-1 .4-.9 .5-.1 0-1 .1-.4-.1-.6-.3-1-.6-.2-.1-.8-.5-.6-.5-.4-.3-.7-.7-.3-.2-1-.7-.1-.1-.9-.6-.4-.4-.5-1-.1-.2-.3-.8-.5-1-.2-.3-.9-.7-.1-.1-.3 .1-.7 .1-1 .6-.4 .3-.6 .4-.7 .6-.3 .2-1 .7-.1 .1-.9 .6-.7 .4-.3 .2-1 .2-1-.3-.1-.1-.9-.3-1-.3-.7-.4-.3-.2-.5-.8-.5-.9 0-.1-.6-1-.4-.6-1-.3-1 .3-1 .6-1 .8-.2 .2-.8 .9-.1 .1-.9 .9-.2 .1-.8 .5-1 .1-1 0-1 .2-.8 .2-.2 .1-1 .4-.9 .5-.1 .1-1 .9-1 .1-.4-.1-.6-.3-.9-.7-.1-.2-.2-.8-.3-1-.5-.5-.5-.5-.5-.3-.7-.7-.3-.2-.7-.8-.3-.3-.7-.7-.3-.3-.6-.7-.4-.6-.4-.4-.6-.8-.3-.2-.7-.5-.8-.5-.2-.1-1-.4-1-.2-1-.1-1 .1-1 .2-1 .2-1-.1-1-.1-1-.3-.4-.2-.6-.4-.6-.6-.4-.5-.3-.5-.6-1-.1-.2-.5-.8-.5-.9-.1-.1-.6-1-.3-.7-.2-.3-.4-1 0-1 0-1-.3-1-.1-.1-.5-.9-.4-1z"/>
<path fill="#ffdb00" d="M234.2 288l.8-.1 1 0 1 0 1-.1 1 .1 .1 .1 .9 .7 .6 .3 .4 .1 1 .6 .8 .3 .2 .1 1 .6 .9 .3 .1 .1 1 .3 1 0 1 .1 1 0 1 0 1-.2 .6-.3 .4-.1 1-.4 1 0 .9 .5 .1 .1 1 .7 .7 .2 .3 .1 1 .3 1 .2 1 .4 1 .8 1 .2 .6 0 .4 .1 .2-.1 .8-.1 1-.3 .7-.6 .3-.2 .7-.8 .3-.3 .7-.7 .3-.3 1-.3 1 .5 .1 .1 .6 1 .3 .7 .2 .3-.2 .3-1 .2-1 .1-.8 .4-.2 .2-.4 .8 0 1 .3 1 .1 .1 .3 .9 .4 1 .3 .7 .2 .3 .5 1 .3 .4 .7 .6 .3 .2 .7-.2 .3-.1 .4-.9 0-1 .2-1 .4-.7 .2-.3 .8-.7 .2-.3 .7-1 .1-.2 .3-.8 .2-1 .5-.4 .6-.6 .4-.1 1-.4 1-.4 .5-.1 .5-.1 1 0 1-.1 1 0 .5 .2 .5 .3 .9 .7 .1 .1 1 .6 1 .1 .7 .2-.5 1-.2 .3-.4 .7-.3 1-.3 .7-.1 .3-.2 1 .3 .7 .2 .3 .7 1-.2 1-.3 1-.4 .6-.3 .4-.7 .7-.3 .3-.7 .6-.4 .4-.6 .5-.7 .5-.3 .3-.6 .7-.4 .5-.5 .5-.5 .4-.8 .6-.2 .1-1 .5-1 .2-1-.1-1-.2-1-.3-.2-.2-.8-.9-.1-.1-.3-1-.2-1-.4-.9-.1-.1-.9-.6-1-.1-1 .3-.4 .4-.6 .4-.6 .6-.4 .4-.7 .6-.3 .3-.7 .7-.3 .3-.9 .7-.1 .1-1 .2-1 0-1 .1-1 .1-1 .2-1 .1-1-.3-.9-.5-.1-.1-1-.6-.7-.3-.3-.1-1-.5-.8-.4-.2-.1-1-.6-.3-.3-.7-.5-.5-.5-.5-.7-.2-.3-.5-1-.3-.6-.3-.4-.7-.6-.7-.4-.3-.1-1-.4-1-.3-1-.1-1 0-1 0-1 .2-1 .1-1 0-1-.1-1-.2-.1-.1-.9-.8-.2-.2-.6-1-.2-.3-.4-.7-.5-1-.1-.3-.3-.7-.1-1 0-1 .2-1-.1-1-.3-1-.4-.4-.5-.6-.5-.6-.2-.4 .2-.2 1-.2 1-.1 1-.4zM291.8 296l.2-.1 .3 .1 .7 .4 .6 .6 .4 .3 1 .5 1 .1 .3 .1 .7 .2 1 .3 1 .3 .4 .2 .6 .3 1 .3 1 0 1-.1 1-.1 1 .5 .1 .1 .4 1 .5 .8 .2 .2 .8 .5 1 0 1-.3 .7-.2 .3 0 .3 0 .7 .2 .6 .8 .4 .7 .2 .3 .8 .9 .1 .1 .9 .6 .6 .4 .4 .4 .4 .6 .6 .8 .2 .2 .6 1 .2 .2 .6 .8 .4 .3 1 .6 .2 .1 .8 .4 1 .4 .3 .2 .7 .3 1 .2 1 .2 1 0 1 .1 .7 .2 .3 .1 1 .6 .5 .3 .5 .4 1 .6 .1 0 .9 .4 1 .1 1 .3 .5 .2 .5 .4 .6 .6 .4 .7 .1 .3 .1 1 .1 1 .3 1 .4 .5 1 .4 1 .1 .4 0 .6 .1 1 .6 .3 .3 .6 1 .1 .2 .4 .8 .6 .7 .5 .3 .5 .3 1 .5 .2 .2 .5 1 .3 .4 .5 .6 .5 .4 1 .3 1 .2 .4 .1 .6 .2 1 .6 .2 .2 .8 .9 .1 .1 .9 .4 1 .1 1 .1 1 .2 .5 .2 .5 .2 1 .4 .7 .4 .3 .2 .5 .8 .2 1 0 1 0 1 .2 1 .1 .4 .3 .6 .7 .7 .5 .3 .5 .3 1 .6 .1 .1 .9 .7 .6 .3 .4 .2 1 .6 .2 .2 .5 1 .3 .7 .1 .3 .9 1 1 .9 .1 .1 .4 1 .5 .9 .1 .1 .9 .9 .2 .1 .7 1 .1 .3 .2 .7-.2 1 0 .1-.4 .9-.6 .9-.1 .1-.7 1-.2 .9 0 .1 0 .1 .4 .9 .6 .6 .5 .4 .5 .5 .3 .5 .2 1-.1 1-.2 1-.2 1-.5 1-.5 .6-1 .2-1-.1-1 0-1-.1-1-.3-.4-.3-.6-.3-1-.7-.1 0-.9-.7-.3-.3-.7-.8-.1-.2-.8-1-.1-.2-.5-.8-.4-1-.1-.4-.2-.6-.5-1-.3-.3-.7-.7-.3-.2-1-.6-.2-.2-.8-.5-.6-.5-.4-.2-1-.5-.5-.3-.5-.3-1-.4-1-.2-.6-.1-.4-.1-1-.6-.2-.3-.4-1-.2-1-.1-1 0-1-.1-1-.3-1-.5-1-.2-.6-.1-.4-.2-1 0-1-.1-1-.1-1-.3-1-.2-.8-.1-.2-.7-1-.2-.2-1-.4-1-.2-1-.2-.2 0-.8-.1-1-.3-1-.4-.5-.2-.5-.3-.6-.7-.4-.7-.2-.3-.5-1-.3-.3-1-.1-1 .3-.5 .1-.5 .2-1 .3-1 .2-.5 .3-.5 .2-1 .6-.4 .2-.6 .3-1 .3-1 0-1-.1-.9-.5-.1-.1-.5-.9-.4-1-.1-.4-.3-.6-.6-1-.1-.1-1-.6-.4-.3-.6-1 0-.3 0-.7-.1-1-.3-1-.6-.6-1-.2-1 .4-.5 .4-.5 .5-.8 .5-.2 .1-1 .2-1-.2-.3-.1-.7-.4-.7-.6-.3-.3-.5-.7-.5-.7-.1-.3-.3-1 0-1-.1-1-.3-1-.2-.9 0-.1-.4-1-.2-1-.1-1-.3-1-1-.8-1 0-1 .1-1 .1-1 .2-1 .2-1 .2-.2 0-.8 .3-1 .3-1 .2-1 .1-1 .1-1-.5-1-.5-1-.5-.8-.5-.2-.1-1-.6-.5-.3-.5-.4-.5-.6-.3-1-.1-1 .1-1 .4-1 .1-1 0-1 .3-.9 0-.1 .3-1-.1-1-.2-1 .1-1 .9-.6 .4-.4 .6-.6 .2-.4 .2-1z"/>
<path fill="#ffc100" d="M233.5 289l.5-.2 1-.3 1 .1 .8 .4 .2 .4 .6 .6 .4 .4 1 .2 1-.3 1-.3 1 .2 1 .5 .8 .3 .2 .2 1 .5 1 .1 1 0 1 0 1 .1 1-.1 1 0 1-.3 .8-.5 .2-.1 .6 .1 .4 .5 .4 .5-.4 .8-.1 .2 0 1 .1 1 .1 0 .9-.9 0-.1 .2-1 .8-.1 1-.1 1 0 1 .2 .1 0 .9 .8 .4 .2 .2 1-.3 1 .7 .2 1 .2 1-.1 .8-.3 .2-.1 1-.6 .5 .7 .4 1 .1 1 0 1 0 .1 .4 .9 .6 .7 .3 .3 .7 1 0 .4 .1 .6-.1 .1-.5 .9-.5 .7-.2 .3-.4 1-.4 .5-.3 .5-.7 .9-.1 .1-.9 .8-.6 .2-.4 .1-1 0-.5-.1-.5-.2-1-.1-.8 .3-.2 0-1 .2-1-.2-.1 0-.9-.5-.8-.5-.2-.1-1-.5-.7-.4-.3-.1-1-.3-1-.5-.1-.1-.9-.9-.1-.1-.2-1 .3-1 1-.9 .1-.1-.1-1-1-.4-1 0-1 .1-1 .1-1-.3-1-.3-1-.1-1 0-1 0-.7-.1-.3 0-1-.1-1 0-.5 .1-.5 .1-1 0-.3-.1-.7-.3-.6-.7-.4-.6-.2-.4-.4-1-.4-1 .1-1 .2-1 .2-1 .2-1-.3-1-.4-.7-.1-.3zM252 297l0 .1 0-.1zM268.7 291l.3 0 .1 0 0 1-.1 .1-1 .2-.4-.3 .4-.5zM278.6 293l.4-.1 1-.2 1-.2 1-.3 1 0 1 .6 .2 .2 .8 1-.5 1-.5 .9-.1 .1-.4 1-.5 .7-1-.3-1-.2-1 .8-.1 1 .1 .2 1 .8 .2 0 .8 .1 1 .8 .1 .1 .7 1 .1 1-.3 1-.6 .8-.2 .2-.8 .6-.6 .4-.4 .3-.9 .7-.1 .1-.9 .9-.1 .1-1 .8-.1 .1-.9 .5-1 .1-1-.1-.9-.5-.1-.1-.4-.9-.2-1-.2-1-.2-.6-.2-.4-.1-1 .3-.5 .2-.5 .5-1 .2-1 .1-1 .3-1 .7-.8 .1-.2 .8-1 .1-.2 .6-.8 .4-1 .7-1 .3-.3zM293.5 298l.5 0 .1 0 .9 .3 1 .2 1 .2 1 .2 .5 .1 .5 .3 1 .4 1 .2 1 0 1-.1 1-.1 .5 .3 .5 .6 .2 .4 .4 1 .4 .3 1 .5 1-.1 1-.3 1-.2 1 .3 .3 .5 .7 1 .8 1 .2 .2 1 .6 .3 .2 .7 .8 .2 .2 .7 1 .1 .1 .6 .9 .4 .4 .4 .6 .6 .5 .8 .5 .2 .1 1 .5 .9 .4 .1 .1 1 .4 1 .2 1 .2 1 0 1 .1 .1 0 .9 .4 1 .5 .1 .1 .9 .6 .6 .4 .4 .2 1 .4 1 .1 1 .3 .1 0 .9 .7 .3 .3 .5 1 .2 .6 0 .4 .1 1 .3 1 .6 .7 .6 .3 .4 .2 1 0 1 .2 1 .5 0 .1 .6 1 .4 .6 .2 .4 .8 .9 .2 .1 .8 .5 .9 .5 .1 .1 .5 .9 .5 .7 .2 .3 .8 .7 1 .3 .3 0 .7 .2 1 .3 .8 .5 .2 .2 .7 .8 .3 .2 1 .4 1 .1 1 .1 1 .2 1 .4 1 .3 .5 .3 .5 .4 .4 .6 .1 1 .1 1 0 1 .1 1 .3 .8 .1 .2 .9 .9 .2 .1 .8 .5 .9 .5 .1 .1 1 .8 .2 .1 .8 .5 1 .5 .5 1 .4 1 .1 .2 .7 .8 .3 .3 .8 .7 .2 .3 .3 .7 .5 1 .2 .2 .9 .8 .1 .1 .7 .9 .3 1-.2 1-.4 1-.4 .7-.3 .3-.7 1-.5 1 .5 1 1 1 .8 1 .2 .7 0 .3 0 .3-.3 .7-.5 1-.2 .4-.6 .6-.4 .3-1 .3-1 0-1-.1-1-.3-.4-.2-.6-.3-1-.7-.8-1-.2-.3-.5-.7-.5-.6-.3-.4-.4-1-.3-1 0-.2-.3-.8-.7-1-1-.7-.5-.3-.5-.2-1-.5-.5-.3-.5-.2-1-.6-.4-.2-.6-.3-1-.6-.3-.1-.7-.3-1-.5-.6-.2-.4-.3-.7-.7-.3-1-.2-1 0-1-.2-1-.2-1-.4-1-.4-1-.2-1 0-1-.1-1-.2-1-.1-.4-.2-.6-.2-1-.5-1-.1-.2-1-.8-1-.4-1-.4-.8-.2-.2 0-1-.3-1-.2-1-.4-.2-.1-.8-.7-.2-.3-.5-1-.3-.6-.5-.4-.5-.2-1 .1-.3 .1-.7 .2-1 .3-1 .3-1 .2-1 .4-.9 .6-.1 0-1 .5-1 .3-1-.1-1-.5-.2-.2-.6-1-.2-.5-.2-.5-.2-1-.3-1-.3-.4-.8-.6-.2-.1-.7-.9-.3-1 0-.1-.3-.9-.5-1-.2-.2-1-.4-1 0-1 .2-.6 .4-.4 .3-.8 .7-.2 .1-1 .3-1-.2-.4-.2-.6-.4-.6-.6-.4-.4-.4-.6-.3-1-.1-1-.1-1-.1-.5-.1-.5-.4-1-.3-1 0-1 .1-1-.1-1-.2-.7-.2-.3-.8-.7-1-.3-1 .2-1 .2-1 .1-1 .1-1 .1-1 .2-.6 .1-.4 .1-.5-.1-.5-.1-1-.6-.5-.3-.5-.3-1 0-1 .2-.4 .1-.6 .1-.2-.1-.8-.3-1-.5-.4-.2-.6-.9-.1-.1 .1-.1 1-.7 1-.2 .5 0 .5 0 1-.3 .8-.7 .2-.6 .1-.4-.1-.3-.2-.7-.8-.9-.1-.1-.9-.8-.3-.2-.7-.8-.1-.2-.3-1 .2-1 .2-.6 .2-.4 .5-1 .3-.8zM296 301.8l-.3 .2-.4 1 .6 1 .1 .1 .2-.1 .8-.2 .8-.8-.1-1-.7-.4z"/>
<path fill="#ffa700" d="M240.8 293l.2-.4 1-.3 .4 .7 .5 1-.4 1-.5 .3-1 .1-1 0-.5 .6-.5 .5-.6 .5-.4 .2-1-.2-.6-1-.4-.3-.2-.7 0-1 .2-.4 1 .2 .2 .2 .8 .8 .8 .2 .2 .1 .1-.1 .9-.5 .2-.5zM247.6 293l.4-.1 1-.1 1-.1 1 .1 .3 .2 0 1-.3 .4-1 .3-1-.3-.7-.4-.3-.4zM253.8 298l.2-.3 1-.7 1 0 1 .2 1 .3 1 .5 1 .4 1 .2 1 .1 1 .2 .2 .1-.2 .5-1 .3-.4 .2-.6 .2-.5 .8-.3 1 .8 .9 .1 .1 .9 .8 .4 .2 .6 .3 1 .5 .1 .2 .2 1-.3 1-1 .4-.8-.4-.2-.1-1-.8-.6-.1-.4-.1-.1 .1-.9 .2-1 .4-1 .1-1 0-1-.3-1-.4-.1 0-.9-.4-1-.5-.1-.1 .1-.9 0-.1 .7-1 .2-1 0-1 .1-1 0-.1 .2-.9zM276.9 298l.1-.1 .3 .1 .7 .4 .2 .6 .3 1 .5 .9 .1 .1 .9 .6 1 .3 .2 .1 .7 1-.5 1-.4 .3-1 .3-.6 .4-.4 .3-.5 .7-.5 .6-.3 .4-.7 .9-.2 .1-.8 .3-1-.2-.1-.1-.4-1-.3-1-.1-1 0-1 .4-1 .3-1 .2-1 0-.2 .2-.8 .6-1 .2-.2zM298.3 300l.7-.1 .7 .1 .3 .1 1 .3 1 .2 1 .1 1 0 .1 .3-.1 .2-1 .2-.4 .6 0 1 .4 .5 1 .3 1-.8 1-.1 .5 .1 .5 .1 .4-.1 .6-.1 1-.2 1-.2 1 .3 .1 .2 .6 1 .3 .4 .5 .6 .5 .5 1 .5 .9 1 .1 .1 .6 .9 .4 .4 .4 .6 .6 .7 .2 .3 .8 .7 .5 .3 .5 .3 1 .5 .5 .2 .5 .3 1 .4 1 .2 .5 .1 .5 .2 1 0 1 .1 1 .4 .7 .3 .3 .2 1 .7 .2 .1 .8 .5 1 .2 1 .2 .4 .1 .6 .4 1 .6 .5 1 .2 1 .2 1 .1 .2 .2 .8 .8 1 1 .6 1 0 1 .1 .5 .3 .5 .5 .3 .5 .6 1 .1 .1 .8 .9 .2 .2 1 .5 .6 .3 .4 .5 .3 .5 .6 1 .1 .1 1 .9 .2 0 .8 .3 1 .2 1 .3 .3 .2 .7 .6 .4 .4 .6 .5 1 .2 1 .2 1 0 .3 .1 .7 .2 1 .4 1 .3 .2 .1 .8 .7 .2 .3 .2 1 0 1 .1 1 .1 1 .3 1 .1 .1 1 .9 1 .7 .6 .3 .4 .4 .8 .6 .2 .1 1 .6 .6 .3 .4 .4 .3 .6 .3 1 .4 .5 .4 .5 .6 .5 .6 .5 .4 .6 .2 .4 .4 1 .4 .4 .6 .6 .4 .4 .5 .6 .2 1-.1 1-.3 1-.3 .4-.6 .6-.4 .6-.5 .4-.4 1 .1 1 .4 1 .4 .8 .1 .2 .2 1-.3 .6-.3 .4-.7 .6-.7 .4-.3 .1-1 0-.8-.1-.2 0-1-.9-.1-.1-.4-1-.5-.4-.5-.6-.5-.5-.3-.5-.3-1-.3-1-.1-.1-.4-.9-.6-.5-.6-.5-.4-.2-1-.5-.9-.3-.1 0-1-.4-1-.4-.3-.2-.7-.3-1-.5-.3-.2-.7-.5-1-.5-1-.8-.3-.2-.7-.8-.1-.2-.4-1-.1-1-.2-1-.2-.8-.1-.2-.2-1-.4-1-.2-1-.1-1 0-.5 0-.5-.3-1-.3-1-.2-1-.2-.6-.1-.4-.8-1-.1-.1-1-.6-.6-.3-.4-.2-1-.4-1-.3-.3-.1-.7-.2-1-.3-1-.5-.8-1-.2-.5-.3-.5-.7-.7-1-.1-1 .2-1 .3-1 .2-.3 .1-.7 .2-1 .1-1 .3-.7 .4-.3 .2-1 .4-1 .3-1-.4-.5-.5-.5-.7-.2-.3-.2-1-.2-1-.4-1 0-.1-.9-.9-.1-.1-.8-.9-.2-.4-.2-.6-.4-1-.4-.8-.2-.2-.8-.2-1-.1-1 0-1 .1-.7 .2-.3 .1-1 .8-.1 .1-.9 .4-1-.2-.2-.2-.8-.5-.5-.5-.5-.9 0-.1-.1-1-.1-1-.3-1-.4-1-.1-.4-.1-.6 0-1 .1-.7 0-.3 .1-1-.1-.5-.1-.5-.8-1-.1-.2-1-.6-.9-.2-.1 0-.2 0-.8 .2-1 .2-1 .1-1 0-1-.1-1 .2-1 0-.7-.6-.3-.4-.5-.6-.4-1 .3-1 .4-1 .2-.6 .1-.4 .6-1 .3-.4 .3-.6 .3-1-.1-1-.5-.9-.1-.1z"/>
<path fill="#ff9100" d="M254.4 299l.6-.7 1-.2 1 .2 1 .5 .3 .2 .3 1-.6 .9-.1 .1-.9 .8-.2 .2-.7 1-.1 .4-.9 .6-.1 .1-.1-.1-.5-1-.3-1-.1-.4 0-.6 0-.7 0-.3zM308.9 303l.1 0 1-.1 .5 .1 .5 .3 .4 .7 .6 .8 .2 .2 .8 .8 .4 .2 .6 .6 .4 .4 .6 .7 .2 .3 .8 .8 .2 .2 .8 1 1 .9 .2 .1 .8 .5 1 .5 .1 0 .9 .5 1 .3 .7 .2 .3 .2 1 .3 1 0 1 .2 1 .3 .1 0 .9 .6 .8 .4 .2 .2 1 .5 1 .2 .5 .1 .5 .3 1 .5 .3 .2 .7 .7 .1 .3 .2 1 .1 1 .5 1 .1 .1 .6 .9 .4 .5 1 .4 1 0 .8 .1 .2 .1 .8 .9 .2 .2 .3 .8 .7 .6 .3 .4 .7 .5 1 .4 .2 .1 .8 .8 .1 .2 .4 1 .5 .7 .4 .3 .6 .5 1 .2 1 .2 .6 .1 .4 .2 1 .8 1 .7 1 .2 .7 .1 .3 .1 1 .1 1 .3 1 .3 .8 .2 .2 .1 1 .8 .1 .1 .2 1 0 1 0 1 .2 1 .3 1 .2 .3 .7 .7 .3 .3 1 .5 .3 .2 .7 .6 .5 .4 .5 .4 1 .5 .2 .1 .8 .8 .1 .2 .2 1 .7 .9 .1 .1 .9 .7 .3 .3 .7 1 .4 1 .6 .7 .3 .3 .7 .6 .3 .4 .2 1-.1 1-.3 1-.1 .1-.9 .9-.1 .1-1 .8-.2 .1-.8 .9-.1 .1-.9 .4-1 .4-1 .1-1-.4-.4-.5-.6-.8-.1-.2-.9-.9-.1-.1-.9-.6-.7-.4-.3-.1-1-.3-1-.3-1-.3-1-.4-1-.4-.3-.2-.7-.5-.8-.5-.2-.1-1-.7-.2-.2-.8-.8-.2-.2-.6-1-.2-1-.3-1-.2-1-.2-1-.2-1-.1-.3-.2-.7-.1-1-.1-1-.3-1-.3-.9 0-.1-.3-1-.2-1-.5-1 0-.1-1-.8-.1-.1-.9-.6-1-.4-1-.5-1-.3-.7-.2-.3-.1-1-.4-.7-.5-.3-.4-.3-.6-.6-1-.1-.1-1-.5-1 .1-1 .3-.4 .2-.6 .2-1 .2-1 .1-1 .1-1 .3-.3 .1-.7 .3-1 .3-1 .1-1-.7-.4-1-.2-1-.2-1-.2-.9 0-.1-1-1-1-1-.3-1 .1-1 .2-.7 .3-.3-.3-1-1 .7-1 .2-.9 .1-.1 0-1 0-1 0-1 0-1 .2-1 .4-.9 .4-.1 0-.3 0-.7-.1-1-.7-.1-.2-.3-1-.1-1-.3-1-.2-.4-.2-.6-.3-1 0-1 .2-1 .1-1-.2-1-.5-1-.1-.2-.8-.8-.2-.2-1-.7-.6-.1-.4-.1-.8 .1-.2 0-1 .3-1 .1-1-.4-.1 0-.7-1 0-1 .8-1 1-.4 1-.5 .1-.1 .9-.7 .4-.3 .6-.5 .5-.5 .5-.1 1-.4zM275.9 304l.1-.7 .5 .7-.2 1-.3 .2-.1-.2z"/>
<path fill="#ff7700" d="M255.4 300l.6-.5 .7 .5-.7 .7zM308.5 304l.5-.2 1-.3 1 .4 0 .1 .7 1 .3 .3 .8 .7 .2 .2 .8 .8 .2 .3 .5 .7 .5 .4 .7 .6 .3 .2 .6 .8 .4 .3 .8 .7 .2 .2 1 .6 .6 .2 .4 .3 1 .4 .9 .3 .1 .1 1 .5 1 .2 1 .1 .9 .1 .1 .1 1 .5 1 .3 .1 .1 .9 .5 1 .4 .3 .1 .7 .5 1 .4 .2 .1 .1 1-.3 .4-.5 .6-.5 .6-.2 .4-.1 1 .3 .4 1-.3 .1-.1 .9-.6 1-.2 .3 .8 .7 .8 .1 .2 .9 1 0 .2 .5 .8-.3 1-.2 .7 0 .3-.1 1-.1 1-.8 .8-.3 .2-.7 .3-1 .3-1 .2-1 0-1 .1-.4 .1-.6 .1-1 .3-1 0-.9-.4-.1-.2-.3-.8 .1-1 .2-.3 .4-.7 .6-.8 .2-.2 .4-1-.2-1-.4-.3-1-.4-.5-.3-.5-.3-.3-.7-.5-1-.2-.3-.4-.7-.6-.9-.2-.1-.8-.6-.4 .6-.6 .5-.3 .5-.7 .7-.5 .3-.5 .2-1 .1-1 0-1-.1-1 .1-1 .2-1 .2-1-.3-.3-.4-.4-1-.3-.8 0-.2-.5-1-.3-1 0-1 .1-1 .2-1-.1-1-.4-.8-.1-.2-.6-1-.3-.3-.6-.7-.4-.4-.9-.6-.1-.1-1-.7-.4-.2 .4-1 .7-1 .3-.3 .6-.7 .4-.4zM338.5 326l.5-.5 1 .1 .6 .4 .4 .2 1 .6 .7 .2 .3 .2 .7 .8 .3 .5 .2 .5 .3 1 .4 1 .1 .1 1 .3 1 .2 1 .3 .4 .1 .6 .3 1 .5 .8 .2 .2 .1 1 .2 1 .2 1 .1 1 .1 1 .2 .2 .1 .8 .4 .8 .6 .2 .4 .1 .6 .1 1 0 1 .1 1 .3 1 .4 .6 .4 .4 .6 .5 1 .5 1 .9 .1 .1 .9 .7 .7 .3 .3 .3 .7 .7 .3 .7 .1 .3 .5 1 .4 .3 1 .7 .6 1 .4 .6 .1 .4 .9 1 1 .9 .1 .1 .2 1-.1 1-.2 .5-.5 .5-.5 .5-1 .3-1 0-.8 .2-.2 .1-1 .5-1 .3-1-.3-.6-.6-.4-.2-1-.7-.2-.1-.8-.4-1-.5-.4-.1-.6-.2-1-.2-1-.2-1-.4-.1 0-.9-.5-.7-.5-.3-.2-1-.5-.4-.3-.6-.6-.4-.4-.6-.8-.1-.2-.4-1-.3-1-.2-1 0-.1-.1-.9-.1-1-.3-1-.2-1-.1-1-.2-.9 0-.1-.4-1-.4-1-.2-1 0-.4-.1-.6-.4-1-.5-.4-1-.6-1-.7-.7-.3-.3-.2-1-.4-1-.2-.9-.2-.1 0-1-.6-.3-.4-.5-1-.2-.7-.1-.3-.2-1 .3-1z"/>
<path fill="#ff6000" d="M309.4 305l.6-.4 1 .4 .9 1 .1 .1 .6 .9 .4 .9 .1 .1 .8 1 .1 .1 1 .3 1 .4 .2 .2 .8 .7 .3 .3 .7 .5 1 .5 .1 0 .9 .6 1 .4 .1 0 .9 .8 .8 .2-.8 .7-.9 .3-.1 0-1 .8-.2 .2 .1 1 .1 .4 .2 .6-.2 1-.8 1-.2 .1-1 .1-1-.2-1 0-1 .2-1 .1-1 0-.4-.3-.6-.7-.1-.3-.4-1-.5-1-.1-1 0-1 .1-.3 .3-.7 0-1-.3-.5-.2-.5-.5-1-.3-.3-.5-.7-.5-.5-.5-.5-.5-.7-.3-.3-.1-1 .4-.7 .2-.3 .8-.8zM326.1 316l.9-.4 1 0 1 .3 .2 .1 .8 .7 .6 .3-.4 1-.2 .3-.5 .7-.5 .7-.5 .3-.5 .3-1 .7-1 0-1-1 0-.1-.2-.9 .1-1 .1-.2 .5-.8 .5-.8zM333.5 323l.5-.7 .4 .7-.3 1 0 1 .4 1 .1 1-.1 1-.5 .4-.8 .6-.2 .1-1-.1-.2 0-.8-.6-1 .3-.6 .3-.4 .1-1-.1-.1 0-.1-1 .2-.5 .3-.5 .7-.9 .2-.1 .8-.4 1-.6 1-.3 1-.6 .4-.1zM340.8 327l.2 0 .1 0 .9 .3 1 .5 .2 .2 .2 1-.4 .8-1 .2-1 0-.2 0-.8 .1-.1-.1-.1-1 0-1 .2-.4zM349.7 334l.3-.1 1-.2 1 .1 1 .1 1 0 1 .1 1 .3 1 .4 .4 .3 .6 1 0 .2 0 .8 .1 1 .1 1 .2 1 .6 .8 .2 .2 .8 .8 .5 .2 .5 .5 .6 .5 .4 .5 .8 .5 .2 .2 1 .7 .1 .1 .2 1 .4 1 .3 .2 1 .6 .3 .2 .7 .5 .3 .5 .4 1 .3 .4 .4 .6 .6 .6 .5 .4 .5 .9 0 .1 0 .2-.4 .8-.6 .7-1-.1-1 0-1-.1-1-.4-.7-.1-.3 0-1 .7-1-.1-1-.4-.5-.2-.5-.2-1-.4-1-.3-.9-.1-.1 0-1-.3-1-.4-.6-.3-.4-.2-1-.5-.4-.3-.6-.4-.7-.6-.3-.4-.5-.6-.5-1 0-.1-.3-.9-.1-1-.1-1-.1-1-.3-1-.1-.4-.1-.6-.2-1-.2-1-.3-1-.2-.6-.2-.4-.1-1 0-1 .3-.9 .1-.1 .9-.7z"/>
<path fill="#ff4700" d="M309 307l0-.1 1-.5 1 .4 .1 .2 .6 1 .3 .6 .2 .4-.1 1-.1 .1-1 .1-.2-.2-.8-.7-.3-.3-.7-1zM315.3 311l.7-.2 .5 .2 .5 .2 1 .7 .3 .1 .7 .5 1 .4 .2 .1 .3 1-.5 .2-1 .6-.3 .2-.7 .4-1-.1-.4-.3-.6-.7-.2-.3-.4-1-.3-1zM351 335l1-.1 1-.2 1-.1 1 .1 1 .1 1 .2 .5 1 .2 1 .2 1 .1 .3 .1 .7 .2 1 .6 1 .1 .1 1 .9 .9 1 .1 .3 .4 .7 .1 1-.2 1-.3 .7-.1 .3-.1 1 .2 .2 1 .6 .9 .2 .1 0 1 .3 1-.1 .2-.2 .8-.1 .3 .1 .7 .9 0 .1 0 1 .1 1-.1 .1-.1-.1-.9-1-.1 0-.9-.6-.6 .6-.4 .2-.7 .8-.3 .3-.8 .7-.2 .2-1-.1-.5-.1-.5-.1-1-.3-1-.2-1-.2-.8-.2-.2-.2-1-.6-1-.2-.1 0-.9-.3-1-.7-.9-1-.1-.2-.4-.8-.3-1-.1-1 0-1-.1-1-.1-.4-.1-.6-.4-1-.2-1-.2-1-.1-.6-.1-.4-.3-1-.2-1 .4-1 .2-.3 1-.4z"/>
<path fill="#ff3000" d="M352.5 336l.5-.2 1-.2 1 0 1 .1 .7 .3 .3 .2 .2 .8 .2 1 .4 1 .2 .5 .1 .5 .4 1 .5 .7 .3 .3 .5 1-.1 1-.1 1-.1 1-.5 1-1 .7-.5 .3-.5 .2-.8 .8-.2 .1-.9 .9-.1 .1-1 .2-1-.3-1-.8-.2-.2-.7-1-.1-.4-.2-.6 .1-1 .1-1-.1-1-.3-1-.4-1-.2-.5-.2-.5-.1-1-.1-1-.1-1 .2-1 .3-.3 1-.2 1-.3zM358.7 350l.3-.3 1-.2 1 .4 .3 .1 .1 1-.4 .4-1 .3-1-.1-1-.6z"/>
<path fill="#ff1600" d="M352.6 337l.4-.2 1-.2 1 .2 .6 .2 .4 .2 .9 .8 .1 .1 .3 .9 .4 1 .3 .5 .2 .5 .2 1-.1 1-.1 1-.1 1-.1 .3-.3 .7-.7 .6-.4 .4-.6 .6-.4 .4-.6 .7-.3 .3-.7 .3-1-.2-.2-.1-.8-.8-.1-.2-.3-1 .3-1 .1-.4 .5-.6-.4-1-.1-.1-.5-.9-.5-.8-.1-.2-.4-1-.2-1 0-1 .4-1 .3-.3 1-.4z"/>
<path fill="#e40000" d="M352.7 338l.3-.2 1-.2 1 .3 .1 .1 .9 .8 .2 .2 .8 .7 .1 .3 .2 1-.2 1-.1 .1-.6 .9-.4 .5-1 .4-1-.2-1-.6-.1-.1-.9-.8-.1-.2-.5-1-.3-1 .4-1 .5-.5z"/>
<path fill="#c80000" d="M353.3 339l.7-.2 .4 .2 .6 .8 .1 .2 0 1-.1 .1-1 .7-1-.2-.5-.6-.1-1 .6-.9z"/>
<path fill="#66ff90" d="M297.8 331l.2-.2 1-.6 1 0 .8 .8 .2 .3 .6 .7 .4 .4 1 .5 .3 .1 .7 .2 1 .5 .5 .3 .5 .4 1 .6 1 .3 1 .5 .2 .2 .6 1 .2 .6 .1 .4-.1 1 0 .1-.2 .9-.2 1 .1 1 .3 1-.1 1-.3 1-.5 1-.1 .1-1 .7-.3 .2-.5 1 .2 1 0 1-.4 .1-1 .4-.6 .5-.4 .6-.2 .4-.5 1-.3 .4-.6 .6-.4 .5-.6 .5-.4 1-.9 1-.1 0-1 .3-1 .7-.1 0-.9 .4-1-.1-.4-.3-.6-.6-.3-.4-.7-.7-.5-.3-.5-.3-1-.4-.7-.3-.3-.2-1-.8-1-.9-.1-.1-.9-.6-.6-.4-.4-.4-.4-.6-.4-1-.2-1 .1-1 .4-1 .5-.8 .2-.2 .8-1 1-1 0-.1 .3-.9 .7-.8 .1-.2 .4-1 .5-1 0-.1 .4-.9 .4-1 .2-.7 .1-.3 .2-1 .2-1 .5-.9 .1-.1 .9-.5 .8-.5 .2-.2 .8-.8 .2-.2zM212.3 337l.7-.5 1 .2 .2 .3 .3 1 .2 1 0 1-.7 .9-.5 .1-.5 .1-.2-.1-.8-.6-.3-.4-.2-1 .1-1 .4-.7zM217.6 341l.4-.4 1-.5 1-.1 1 .2 1 .3 1 .3 .2 .2 .5 1-.4 1-.3 .2-.9 .8-.1 0-1 .1-.4-.1-.6-.2-1-.7-.2-.1-.8-.9-.1-.1zM308.4 351l.6-.7 1 .5 .1 .2-.1 .3-.4 .7-.6 .3-.4-.3zM262.5 352l.5-.1 .3 .1 .7 .6 .4 .4-.4 .5-1 .3-.9-.8zM313.1 352l.9-.8 1-.1 1 .2 .9 .7 .1 .1 .8 .9 .2 .2 1 .8 0 .1 .5 .9-.5 1-.7 1-.3 .6-.3 .4-.3 1 .2 1 .3 1 .1 .3 .2 .7 .4 1 .4 .4 1 .5 1 0 .5 .1 .5 .1 1 .4 1 0 1-.2 1-.2 .4-.1 .6-.1 1-.2 1-.1 1 0 1-.4 .2-.2 .7-1 .1-.2 .9-.8 .1-.1 1-.3 1-.1 1 0 1 .2 1 .2 1-.5 .5-.4 .5-.4 1-.1 .7-.5 .3-.1 1 0 1-.2 1-.1 1 0 1 .1 1 .1 .5 .2 .5 .2 1 .8 .7 1 .3 .5 .3 .5 .5 1 .2 .3 .5 .7 .5 .5 .5 .5 .5 .4 .8 .6 .2 .1 1 .8 .1 .1 .9 .6 .9 .4 .1 0 1 .7 .5 .3 .5 .3 1 .6 .2 .1 .8 .4 .8 .6 .2 .2 .8 .8 .2 .2 .9 .8 .1 .1 1 .9 .1 0 .9 .9 .1 .1 .8 1 .1 .2 .4 .8 0 1 .2 1 .4 .4 1 .3 1 .2 .5 .1 .5 .1 1 0 1 .3 .4 .6 .3 1 .1 1 .1 1-.1 1 0 1 0 1 0 1 .1 1 0 1 0 1 0 1 0 1-.1 1-.2 1-.2 1 0 1 .1 1 0 1-.1 1-.3 1-.1 .3-.4 .7-.6 .7-.3 .3-.7 .4-1 .4-.8 .2-.2 .1-1 .3-1 .2-1 .1-1 .1-1 0-1-.3-.9-.5-.1 0-1-.1-.7 .1-.3 .1-1 .6-.9 .3-.1 .1-1 .3-1 0-1-.1-1-.2-.3-.1-.7-.1-1-.3-1-.3-1 .2-1 .3-1 .2-.4 0-.6 .3-1 .2-1 .1-1 .2-1 .1-.7 .1-.3 .1-1 .3-1 .2-1 .1-1 .1-1 .1-1-.2-1-.7-1-.8-.2-.2-.8-.8-.3-.2-.7-.4-1 .1-1 .3-.3 0-.7 .3-1 .2-1 .1-1-.2-1-.4-1-.2-1 0-.8 .2-.2 .1-1 .8-.4 .1-.6 .6-1 .2-1 0-1 0-1-.1-1-.3-.4-.4-.6-.3-.9-.7-.1 0-1-.2-1 .1-.4 .1-.6 .3-1 .3-1 .1-1 .1-1 .2-.2 0-.8 .5-1 .3-1 0-1-.4-.9-.4-.1 0-.3 0-.7 .1-1 .6-.8 .3-.2 .2-1 .3-1-.1-1-.2-1-.2-1 .1-1 .2-1 .2-1 .1-1 0-1 .2-.3 .2-.7 .6-.4 .4-.6 .6-1 .4-.2 0-.8 .5-1 .2-1 .2-.4 .1-.6 .4-1 .3-1 .2-.1 .1-.9 .8-.1 .2-.9 1-1 .9-.6 .1-.4 .2-1 .3-1 .3-.7 .2-.3 .2-1 .4-1 0-1-.3-1-.2-1 .3-1 .5-.1 .1-.9 .9-.1 .1-.9 .8-1 .2-.3 0-.7 .3-1 .5-1 .2-1-.1-1-.2-1-.3-1-.1-1 .1-1 0-.9-.4-.1 0-1-.1-1 0-.4 .1-.6 .5-1 .4-.8 .1-.2 .1-1-.1-1 .2-1 .3-1 .1-1 0-1-.3-.9-.3-.1 0-1-.3-1-.3-1-.2-1 .3-1 .5-1 1-.5 1-.5 .6-.2 .4-.8 .9-.1 .1-.9 .8-.8 .2-.2 .1-1 .2-1 .1-1 .4-.4 .2-.6 .4-1 .4-1 0-1 .1-1 .1-1 .7-1 .3-.1 0-.9 .5-1 .4-.2 .1-.8 .7-.3 .3-.7 .8-.1 .2-.4 1-.2 1 0 1-.2 1-.1 .7 0 .3-.1 1 0 1-.1 1-.1 1-.4 1-.3 .5-.2 .5-.5 1-.3 .4-.3 .6-.7 .7-.5 .3-.5 .4-.7 .6-.3 .6-.1 .4 .1 .4 .3 .6 .4 1 .3 .7 .2 .3 .2 1-.4 .8-.1 .2-.9 .7-.4 .3-.6 .4-.7 .6-.3 .4-.6 .6-.3 1-.1 .2-1 .5-.2-.7-.1-1 .2-1 .1-.3 .3-.7 .5-1 .2-.5 .1-.5-.1-1 0-.1-.4-.9-.4-1-.2-.9 0-.1-.2-1 .2-1 0-.1 .3-.9 .4-1 .3-.5 .2-.5 .5-1 .3-.8 .1-.2 .3-1 .3-1 .2-1 .1-1 0-.1 .1-.9 .1-1 .1-1 .1-1 .2-1 .3-1 .1-.4 .2-.6 .3-1 .4-1 .1-.2 .3-.8 .7-1 .7-1 .3-.4 .6-.6 .4-.4 .7-.6 .3-.3 .8-.7 .2-.2 .7-.8 .3-.5 .3-.5 .4-1 .3-.4 .3-.6 .6-1 .1-.3 .3-.7 .2-1 .2-1 .3-.8 .1-.2 .4-1 .5-.8 .1-.2 .5-1 .4-.7 .1-.3 .3-1 0-1-.1-1-.1-1 .4-1 .4-.6 .3-.4 .7-.8 .2-.2 .5-1 .2-1 .1-.3 .2-.7 .5-1 .3-.7 .1-.3 .1-1 .1-1-.3-1-1-.9-.2-.1-.8-.3-1-.6-.1-.1-.5-1-.2-1-.2-.8-.1-.2-.4-1-.3-1-.2-1 .2-1 .2-1 .2-1 0-1 0-1 .3-1 .1-.1 1-.1 1 .1 .1 .1 .9 .7 .3 .3 .7 .7 1 .2 1-.3 1-.4 .7-.2 .3-.1 1-.6 .3-.3 .3-1-.3-1-.3-.5-.3-.5-.2-1 .1-1 .4-1 .7-1 .3-.4 .5-.6 .5-.4 1-.5 .4-.1 .6-.2 1-.6 .2-.2 .4-1 .4-.6 .5-.4 .5-.2 1-.2 1-.2 1-.3 .1-.1 .8-1 .1-1-.4-1-.5-1 .1-1 .8-.9 .1-.1 .9-.5 .6-.5 .4-.4 .6-.6 .4-.2 1-.2 .8 .4 .2 .2 .3 .8 .7 1 1 .9 .5 .1 .5 .1 .5-.1 .5-.1 1-.1 .9 .2 .1 0 1 .6 .5 .4 .5 .4 1 .5 .6 .1 .4 .1 1 .7 .2 .2 .3 1 .5 1 1 .7 1 .1 1-.3 1-.4 .1-.1 .9-.4 1-.5 .1-.1 .9-.8 .2-.2 .8-.6 1-.3 .4-.1 .6-.2 1-.4 1-.3 .2-.1 .8-.5 .7-.5 .3-.5 .5 .5 .1 1 .4 .4 .4 .6 .6 .4 1 .4 1 .1 1-.7 .4-.2 .6-.2 .2 .2 .4 1 .4 1 .7 1 .3 .2 .7 .8 .3 .6 .2 .4 .1 1 .5 1 .2 .1 1 .6 .3 .3 .7 .6 .3 .4 .5 1 .2 .7 .1 .3 .4 1 .5 .6 .8 .4 .2 .1 1 .3 1 .1 1-.1 1 0 1 .2 1 .2 1 .1 1 0 1-.2 1-.4 .6-.3 .4-.2 1-.5 .7-.3 .3-.1 1-.4 1-.4 .1-.1 .9-.3 1-.2 1 .1 1 0 1-.4 .2-.2 .6-1-.1-1-.5-1-.2-1 .3-1 .4-1 .3-1 .2-1 .3-1 .5-1 .4-1 .3-1 .1-1-.2-1-.4-1 0-1 .2-1 .2-1 .2-1 .2-.9zM270.9 353l.1 0 1 .4 1 .6 .8 1 .1 1-.9 .5-1 .2-1-.2-.6-.5-.4-.6-.1-.4-.1-1 .2-.4zM280.5 354l.5-.2 1 .1 .1 .1-.1 .2-1 0zM226.6 356l.4-.4 1-.4 .7 .8-.7 1-.1 0-.9 .3-.6-.3zM213.5 371l.5-.2 1 .2 1 1 .4 1-.2 1-.2 .5-.2 .5-.2 1 .4 1 0 .2 .1 .8-.1 .3-.7 .7-.3 .1-1-.1-.7-1-.2-1-.1-.1-.5-.9-.5-.5-.5-.5-.4-1 .4-1 .5-.6 .3-.4 .7-.8zM219.8 374l.2-.1 .2 .1 .8 .5 .3 .5-.3 .9-1-.6-.3-.3zM218.6 389l.4-.2 1 0 .6 .2 .4 .8 .1 .2-.1 .1-.4 .9-.6 1-.5 1-.5 .9-.1 .1-.9 .7-1-.2-1-.4-.2-.1-.8-.4-1-.5-.2-.1 .1-1 .1-.1 .8-.9 .2-.1 1-.6 .5-.3 .5-.2 1-.5z"/>
<path fill="#50ffa7" d="M297 334l1-.7 1-.2 .9 .9 .1 .2 .6 .8 .4 .3 1-.1 .6-.2 .4-.1 1 0 .2 .1 .8 .6 .3 .4 .6 1 .1 .1 1 .9 .1 0 .9 .8 0 .2 0 .5-.1 .5-.3 1-.1 1 .2 1-.7 .8-1-.8-.1 0-.9-.3-1 .3-1 .7-.4 .3-.2 1 .4 1 .1 1-.2 1-.3 1-.4 .9-.4 .1-.6 .1-.6-.1-.4-.1-1-.1-1-.2-.6-.6-.4-.5-.6-.5-.4-.2-1-.3-.8 .5-.1 1-.1 .6-.1 .4-.7 1-.2 .2-1 .5-1-.3-.8-.4-.2-.1-.8-.9-.2-.6-.1-.4 .1-1 0-.1 1-.8 .2-.1 .8-.2 1-.3 .8-.5 .2-.9 0-.1 0-.4 0-.6 0-.3 0-.7 .3-1 .6-1 .1-.3 .5-.7 .3-1 .1-1 .1-.6 0-.4 .3-1 .7-1zM314.8 355l.2-.4 .4 .4-.4 .5zM343.3 361l.7-.3 1-.2 1 0 1 .2 .8 .3 .2 .2 1 .7 .1 .1 .9 1 .6 1 .4 .6 .3 .4 .7 .8 .3 .2 .7 .4 1 .5 .1 .1 .9 .7 .5 .3 .5 .3 1 .4 .7 .3 .3 .1 1 .7 .3 .2 .7 .4 1 .5 .2 .1 .8 .5 .6 .5 .4 .5 .5 .5 .5 .7 .4 .3 .6 .6 .5 .4 .5 .5 .4 .5 .5 1 0 1-.2 1 .3 .9 .1 .1 .9 .5 1 .3 1 .1 1 .1 .1 0 .9 .3 .9 .7 .1 .1 .3 .9 .2 1 0 1-.1 1-.1 1 0 1 0 1 .1 1 0 1 0 1-.1 1-.3 1-.5 1-.4 1-.1 .9 0 .1 .3 1 .2 1-.2 1-.3 .6-.2 .4-.8 .8-.2 .2-.8 .5-1 .4-.4 .1-.6 .2-1 .3-1 .2-1 .1-1-.1-1-.2-1 0-1 .2-1 .2-.3 .1-.7 .2-1 .2-1 0-1-.1-1-.2-.4-.1-.6-.1-1-.2-1 .1-.6 .2-.4 .2-1 .4-1 .2-1 .1-1 0-1 0-.9 .1-.1 0-1 .4-1 .3-1 .1-1 .1-1 .1-.2 0-.8 .2-1 .2-1-.3-.1-.1-.9-.2-.8-.8-.2-.2-.8-.8-.2-.2-1-.6-1-.1-1 .5-1 .2-1 .1-1 0-1 0-1-.1-1-.2-1 0-1 .2-.3 .2-.7 .5-1 .4-.6 .1-.4 .1-1 .1-1-.2-.1 0-.9-.1-1-.1-1-.8-.1 0-.9-.5-1-.2-1 .2-1 .2-1 .1-1 .1-.9 .1-.1 0-1 .5-1 .4-.4 .1-.6 .3-1 .2-1-.5-1-.2-1 .1-.3 .1-.7 .5-1 .4-1 .1-1-.1-1-.1-1 0-1 0-1 .1-1 .1-.6 0-.4 .1-1 0-1 .4-.9 .5-.1 .1-1 .9-1 .7-1 .2-.4 .1-.6 .3-1 .3-1 .2-1 .1-.5 .1-.5 .2-1 .8-.7 1-.3 .4-.4 .6-.6 .5-1 .3-1 .1-.5 .1-.5 .2-1 .5-1 .2-1-.1-1-.1-1 0-1 .2-.2 .1-.8 .6-.4 .4-.6 .6-.7 .4-.3 .3-1 .3-1 .2-.7 .2-.3 .2-1 .5-1 0-1-.2-.9-.5-.1-.1-1-.1-1 .1-1-.1-1-.3-1-.4-1-.1-1 .6-.7 .4-.3 .3-1 .3-1 0-1 .1-1 .2-1 .1-.3 0-.7 .1-.2-.1-.8-.1-1-.2-1-.7-.1 0-.9-.2-1-.1-1 .2-.2 .1-.8 .6-.6 .4-.4 .5-.4 .5-.6 .8-.1 .2-.7 1-.2 .2-.8 .8-.2 .2-1 .5-1 .1-1 .1-.7 .1-.3 .2-1 .6-.4 .2-.6 .4-1 .2-1 0-1 .1-.8 .3-.2 .1-1 .5-1 .3-.3 .1-.7 .4-1 .5-.1 .1-.9 .8-.2 .2-.6 1-.2 .3-.3 .7-.1 1 0 1-.1 1 0 1-.2 1-.1 1-.1 1-.1 .3-.3 .7-.3 1-.4 .8-.2 .2-.5 1-.3 .5-.6 .5-.4 .3-1 .5-.8 .2-.2 .2 0-.2 0-.1 .3-.9 .4-1 .3-1 .3-1 .2-1 .2-1 .1-1 .1-1 .1-.7 0-.3 .2-1 .1-1 0-1 .1-1 .2-1 .3-1 .1-.3 .2-.7 .4-1 .4-.8 .1-.2 .6-1 .3-.4 .4-.6 .6-.6 .4-.4 .6-.6 .4-.4 .6-.6 .3-.4 .7-.8 .2-.2 .8-.8 .3-.2 .7-.7 .4-.3 .6-.8 .1-.2 .6-1 .3-.7 .2-.3 .5-1 .3-1 0-.1 .4-.9 .5-1 .1-.1 .5-.9 .4-1 .1-.2 .4-.8 .5-1 .1-.3 .1-.7 .1-1 .3-1 .5-.5 .6-.5 .4-.2 1-.8 .1 0 .9-.7 .9-.3 .1-.1 1-.5 .3-.4-.3-.8-.1-.2-.6-1-.3-.4-.4-.6-.6-1 0-.1-.3-.9-.1-1 .1-1 .3-.5 .4-.5 .6-.4 1-.6 .1 0 .9-.5 .8-.5 .2-.1 1-.5 1-.3 1 .2 .9 .7 0 1-.9 1-.1 0-.9 .8-.1 .2-.2 1 .3 .6 .3 .4 .7 .4 1 .3 1-.1 1-.6 .1 0 .9-.2 1-.1 1-.5 .1-.2 .6-1 .3-.4 .3-.6 .6-1 .1-.1 .6-.9 .4-.5 .9-.5 .1-.1 1-.6 .4-.3 .6-.6 .5-.4 .5-.4 .6-.6 .4-.4 .4-.6 .6-.9 .1-.1 .9-.8 1-.2 .1 0 .9-.2 1-.7 .1-.1 .3-1-.4-.6-.3-.4-.7-.7-.6-.3-.4-.4-1-.1-1 .4-.1 .1-.7 1-.2 .3-1 .4-.7-.7 .7-.9 .1-.1 .9-.5 .5-.5 .5-.8 .2-.2 .8-.5 1-.1 .4-.4 .6-.5 .3-.5 .7-.7 .2-.3 .8-.7 .3-.3 .7-.7 .2-.3 .4-1 .4-.8 .2-.2 .8-.8 .2-.2 .8-.6 .5-.4 .5-.3 1-.6 .3-.1 .7-.3 1-.2 .9-.5 .1-.1 1-.5 1-.1 1 .3 .6 .4 .4 .8 .1 .2-.1 .1-.3 .9-.7 .9-.1 .1-.3 1 .4 1 1 1 1 .6 1 .4 1-.1 1-.4 .5-.5 .5-.7 .2-.3 .7-1 .1-.2 .7-.8 .3-.4 1-.6 .1 1 .2 1 .7 .9 .1 .1 .9 .5 1 .1 1-.2 1 .1 .9 .5 .1 0 .5 1 .4 1 .1 .4 .2 .6 .4 1 .1 1-.7 .7-.2 .3 .2 .6 1-.3 1-.2 1 .5 .6 .4 .4 .2 1 .3 1 .1 1-.1 .7-.5 .3-.2 1-.7 .5-.1 .5-.1 1-.2 1-.3 1-.3 .3-.1 .7-.3 1-.2 1 .1 .4 .4 .6 .6 .9 .4 .1 0 .4 0 .6-.1 1-.5 .2-.4 .6-1 .2-.2 1-.6 .3-.2 .7-.3 1-.6 .2-.1 .8-.4 1-.3 1 .2 1 .2 1-.5 .1-.2-.1-.4-.2-.6-.8-.9-.1-.1-.9-.8-.2-.2-.5-1-.2-1 .1-1 .2-1 .4-1 .2-.4 .4-.6 .6-.9 1 .5 .2 .4 .8 .6 .5 .4 .5 .3 .9 .7 .1 .1 .4 .9 0 1 .1 1 .5 .1 .2-.1 .8-.3 1-.5 .3-.2 .7-.3 1-.6 .2-.1 .8-.4 1-.2 1-.1 1 0 1-.3 1-.3 1-.4 .6-.3 .4-.2 1-.8 1-.8 1-.2 .1 0 .9-.3 1 .1 .2 .2 .8 1 1 .2 .6-.2 .4-.3 .7-.7 .3-.4 .6-.6 .4-.4 1-.4zM347 362.9l-.3 .1-.7 .2-.6 .8 .2 1 .4 .5 1 .2 .9-.7 .1-.5 .1-.5-.1-.3-.9-.7zM252.8 362l.2-.1 1-.2 .9 .3 .1 .4 .1 .6-.1 .2-.5 .8-.5 .6-.6 .4-.4 .9 0 .1 1 .7 1 .2 .1 .1-.1 .5-.2 .5-.8 .4-1 .4-.1 .2-.5 1-.4 .7-.1 .3-.9 1-1 .8-.4 .2-.6 .2-1 0-1-.1-1 .1-1 .2-1 0-1-.3-.1-.1-.6-1-.3-.5-.2-.5-.2-1 .2-1 .2-.3 .6-.7 .4-.3 .9-.7 .1 0 .9-1 .1-.1 .5-.9 .4-1 .1-.3 .8-.7 .2-.1 1 0 .2 .1 .8 .4 1 .5 1-.2 .5-.7 .5-.4z"/>
<path fill="#3cffba" d="M298.9 338l.1 0 .1 0 .9 .2 1 .2 1-.4 1-.5 1 .3 .1 .2 .3 1-.2 1-.2 .2-1 .7-.2 .1-.8 .1-1 .3-.8 .6-.2 .1-.9 .9-.1 .1-.9 .9-.1 .1-1 .9-.4 0-.6 0-.9-1-.1-.3-.1-.7 .1-.5 .1-.5 .7-1 .2-.2 .7-.8 .3-.4 .5-.6 .5-.7zM333.9 365l.1-.1 1-.4 1 .2 .4 .3 .6 .4 1 .6 1 .2 .7-.2 .3-.1 1-.3 1 0 .9 .4 .1 0 1 .8 .3 .2 .7 .5 1 .5 .1 0 .9 .4 1 0 .8-.4 .2-.1 1-.4 1 .1 1 .2 .7 .2 .3 .1 1 .6 .4 .3 .6 .4 1 .3 1 .3 .1 0 .9 .4 1 .6 1 .5 1 .4 .1 .1 .9 .9 .1 .1 .7 1 .2 .3 .6 .7 .4 .4 .6 .6 .4 .5 .3 .5 .1 1-.1 1 .2 1 .5 1 1 .5 1 .3 1 .2 .3 0 .7 .1 1 .3 .7 .6 .3 .7 .1 .3 .1 1-.1 1 0 1-.1 1 0 .4 0 .6-.1 1 0 1 0 1-.1 1-.4 1-.4 .8-.1 .2-.2 1 .1 1 .2 1 .1 1-.1 .4-.2 .6-.8 1-1 .7-.6 .3-.4 .2-1 .4-1 .3-.4 .1-.6 .1-1 .1-1-.1-1 0-1 .1-1 .3-1 .2-1 .1-1 0-1-.1-1-.2-1-.2-1-.1-1 .3-1 .4-.2 .1-.8 .4-1 .2-1 .1-1 0-1 0-1 .1-1 .2-.2 0-.8 .3-1 .3-1 .1-1 .1-1 .1-1 .1-1-.2-1-.3-.5-.5-.5-.4-.6-.6-.4-.4-.8-.6-.2-.2-1 0-.5 .2-.5 .3-1 .3-1 .1-1 0-1-.1-1-.1-1-.2-1 .1-1 .3-.8 .3-.2 .2-1 .5-1 .1-1 .1-1-.1-1-.1-1-.3-.6-.4-.4-.2-1-.7-.4-.1-.6-.1-.8 .1-.2 0-1 .3-1 .2-1 .1-1 .2-.8 .2-.2 .1-1 .5-1 .3-.4 .1-.6 .2-.3-.2-.7-.2-1-.1-1 0-.6 .3-.4 .2-1 .5-1 .1-1-.1-1-.1-1 0-1 0-1 .1-1 .1-1 0-1 0-.7 .2-.3 .1-1 .7-.2 .2-.8 .7-.4 .3-.6 .4-1 .4-1 .1-.5 .1-.5 .2-1 .3-1 .2-1 .2-.3 .1-.7 .6-.3 .4-.7 .9-.1 .1-.7 1-.2 .2-1 .4-1 .1-1 .2-.3 .1-.7 .4-1 .2-1-.1-1-.2-1 .1-1 .3-.7 .3-.3 .2-.8 .8-.2 .2-1 .7-.4 .1-.6 .3-1 .2-1 .4-.2 .1-.8 .5-1 0-1-.3-.4-.2-.6-.3-1-.1-1 0-1-.1-1-.5-.1 0-.9-.2-1 0-.7 .2-.3 .2-1 .7-.5 .1-.5 .2-1 0-1 .1-1 .3-1 .2-1 0-1-.1-1-.4-.5-.3-.5-.3-1-.2-1-.2-1 .3-.8 .4-.2 .2-1 .7-.1 .1-.7 1-.2 .3-.4 .7-.6 .7-.2 .3-.8 .8-.3 .2-.7 .4-1 .1-1 .1-1 .2-.3 .2-.7 .5-1 .5-.1 0-.9 .3-1 .1-1 .1-1 .2-.5 .3-.5 .3-1 .2-1 .5-.1 0-.9 .5-.7 .5-.3 .3-.7 .7-.3 .4-.5 .6-.3 1 0 1-.1 1-.1 1 0 .4-.4 .6-.3 1-.1 1-.2 1-.3-1 0-1 0-1 0-1 0-1 0-1 0-1 .1-1 .2-.5 .2-.5 .3-1 .4-1 .1-.2 .4-.8 .6-.8 .1-.2 .9-.9 .1-.1 .9-.8 .2-.2 .8-.9 .1-.1 .9-1 1-.8 .3-.2 .7-.4 1-.6 1-.6 .7-.4 .3-.3 1-.4 1-.2 .4-.1 .6-.2 .7-.8 .3-.5 .2-.5 .3-1 .1-1 .3-1 .1-.4 .1-.6 .3-1 .2-1 .2-1 .2-.6 .1-.4 .5-1 .4-.8 .1-.2 .9-1 .1 0 .9-.5 1-.4 .3-.1 .7-.2 1-.5 .5-.3 .5-.4 1-.5 .4-.1 .6-.1 1 0 1 0 .3 .1 .7 .2 1 .3 1-.2 .4-.3-.1-1-.3-.5-.4-.5 .2-1 .2-.2 .6-.8 .4-.4 .5-.6 .5-.9 .1-.1 .1-1 .2-1 .6-.6 1 .4 .3 .2 .7 .6 .7 .4 .3 .7 .4 .3-.4 .9 0 .1 .2 1 .5 1 .3 .4 .8 .6 .2 .1 .2-.1 .7-1-.4-1-.5-.5-.6-.5-.3-1 .9-.6 1-.1 1 .1 1 .2 1 .2 1 .1 1 .1 1-.2 1-.4 .4-.4 .6-1 .8-1 .2-.2 .6-.8 0-1-.5-1-.1-.1-.7-.9-.3-.5-.4-.5-.6-.9-1 .1-1 .5-.3 .3-.7 .8-.1 .2-.7 1-.2 .3-.5 .7-.4 1-.1 .2-1 .7-1-.1-1 .1-1 0-.3-.9 .3-.5 .5-.5 .5-.3 .7-.7 .3-.6 .1-.4 .2-1 .2-1 .5-.7 .3-.3 .7-.3 1-.6 .2-.1 .8-.4 1-.4 1-.1 .3-.1 .7-.9 0-.1 .3-1 .2-1 .1-1 0-1-.2-1-.4-.6-.2-.4-.2-1 .1-1 .3-.4 .4-.6 .6-.4 1-.2 1 .3 .3 .3 .7 .4 .8 .6 .2 .2 .7 .8 .3 .5 .5 .5 .5 .4 .8-.4 .2-.1 .8-.9 .2-.2 1-.5 1 .1 1 .1 1 .1 1 .1 1 0 1-.2 1-.1 .4 .6 .1 1-.5 .8-.3 .2-.7 .3-1 .6-.1 .1-.2 1 0 1 .3 .8 .2 .2 .8 .8 .1 .2 .7 1 .2 .3 .9 .7 .1 .1 1 .3 1 .2 1 .2 1 .2 1-1-.1-1-.3-1-.2-1 .6-.2 1-.1 1 .1 1 0 .6 .2 .4 .2 .6 .8 .4 .5 .4 .5 .6 .6 .8 .4 .2 .2 .5-.2 .5-.2 .6-.8 .4-.3 .9-.7 .1-.1 1-.8 .1-.1 .9-.5 1-.4 .2-.1 .8-.5 .5-.5 .5-.3 1-.1 1 .4 1 .9 .3 .1 .7 .3 1 0 1 .1 .9 .6 .1 .2 .7 .8 .2 1 .1 .1 .7-.1 .2-1 .1-.2 .2-.8 .8-1 1-.6 .7-.4 .3-.4 .6-.6 .4-.5 .6-.5 .4-.2 1-.2 1-.1 1-.4 .2-.1 .8-.6 .7-.4 .3-.2 1-.6 .3-.2 .7-.4 .7-.6 .3-.5 .2-.5 .3-1 .5-1 1-.5 1-.1 1-.1 1-.2 1 .2 1 .3 1 .1 .8-.7 .2-.3 .3-.7 .5-1 .2-.2 .8-.8 .2-.2zM265.9 370l.1-.1 .1 .1-.1 0z"/>
<path fill="#26ffd1" d="M335.2 368l.8-1 1 .8 .4 .2 .6 .2 1 .2 1 0 1-.1 1 .4 .8 .3 .2 .1 1 .6 .3 .3 .7 .8 .2 .2 .6 1 .2 .3 1 0 .4-.3 .6-.4 .6-.6 .4-.3 .7-.7 .3-.2 1-.2 1 .2 .4 .2 .6 .6 .5 .4 .5 .4 1 .3 1 0 1 .2 .5 .1 .5 .1 1 .5 .9 .4 .1 .1 .7 .9 .3 .5 .3 .5 .7 .6 .5 .4 .5 .4 .6 .6 .4 .7 .1 .3 .2 1 .1 1 .3 1 .3 .8 .2 .2 .8 .4 1 .4 .6 .2 .4 .2 1 .6 .3 .2 .7 .7 .2 .3 .2 1 .1 1 0 1 0 1 .1 1 0 1 .1 1-.1 1-.3 1-.3 .8-.1 .2-.2 1 .1 1 .2 1-.2 1-.7 1-.1 .1-1 .8-.1 .1-.9 .6-.5 .4-.5 .2-1 .3-1 .2-1 0-1 0-1 .2-.7 .1-.3 .1-1 .1-1 .1-1 0-1-.1-1-.2-1-.2-1 0-.6 .2-.4 .1-1 .6-.6 .3-.4 .2-1 .2-1 .1-1 .1-1-.1-1 .1-1 .2-1 .2-.1 0-.9 .3-1 .2-1 .1-1 .1-1 0-1-.1-1-.4-.3-.2-.7-.7-.3-.3-.7-.7-.4-.3-.6-.4-1 0-1 .4-.1 0-.9 .3-1 .1-1 .1-1-.1-1-.1-1-.2-1 .1-1 .3-1 .4-.2 .1-.8 .5-1 .2-1 0-1-.1-1-.1-1-.4-.1-.1-.9-.5-.8-.5-.2-.2-1-.1-1 .1-1 .2-.1 0-.9 .2-1 .2-1 .2-1 .2-.3 .2-.7 .4-1 .3-1 .2-1-.2-1-.2-1 .1-1 .4-1 .5-1 .1-1-.1-1-.1-1-.1-1 .1-1 .1-1 .1-1 0-1 0-1 .2-.2 .2-.8 .6-.4 .4-.6 .5-.8 .5-.2 .2-1 .4-1 .1-1 .2-.4 .1-.6 .2-1 .3-1 .2-.8 .3-.2 .2-.5 .8-.5 .6-.3 .4-.7 .9-.2 .1-.8 .4-1 .1-1 .2-.8 .3-.2 .1-1 .3-1-.2-.7-.2-.3-.1-.7 .1-.3 .1-1 .3-1 .5-.1 .1-.9 .9-.2 .1-.8 .7-1 .2-.2 .1-.8 .2-1 .4-.6 .4-.4 .2-1 .1-.9-.3-.1 0-1-.5-1-.1-1 0-1-.1-.5-.3-.5-.2-1-.2-1 0-1 .2-.2 .2-.8 .6-1 .3-1-.1-1 .1-.2 .1-.8 .3-1 .2-1 .1-1-.1-1-.5-1-.5-1-.3-1-.2-1 .3-1 .5-.3 .2-.7 .5-.5 .5-.5 .8-.2 .2-.5 1-.3 .4-.6 .6-.4 .4-.9 .6-.1 .1-1 .2-1 0-1 .2-.7 .5-.3 .2-1 .4-1 .4-1 .1-1 .1-1 .2-1 .5-.2 .1-.8 .2-1 .2-.8 .6-.2 .1-1 .5-.8 .4-.2 .1-.1-.1 .1-1 .6-1 .4-.5 .5-.5 .5-.4 .7-.6 .3-.2 .7-.8 .3-.3 .6-.7 .4-.3 1-.7 .1 0 .9-.5 .8-.5 .2-.1 1-.6 .9-.3 .1 0 1-.3 1-.1 1-.3 .5-.3 .5-.8 .1-.2 .4-1 .3-1 .1-1 .1-.3 .1-.7 .3-1 .4-1 .2-.4 .3-.6 .6-1 .1-.1 .7-.9 .3-.3 .7-.7 .3-.3 1-.6 .2-.1 .8-.4 1-.4 .6-.2 .4-.2 1-.3 1 .5 1 .7 1 .1 1-.7 .1-.1 .9-.9 .2-.1 .8-.5 1-.4 .7-.1 .3-.1 1-.3 1-.5 .1-.1 .9-.5 1-.2 1 .3 1 .4 .1 0 .9 1 0 .1 .4 .9 .6 .6 1 .2 1-.3 1-.1 1-.1 .5-.3 .5-.8 .1-.2-.1-.2-.4-.8-.6-.9-.1-.1-.3-1 .3-1 .1-.2 .7-.8 .3-.2 .7-.8 .3-.2 .7-.8 .3-.4 .5-.6 .5-.6 .4-.4 .6-.6 .4-.4 .6-.8 .2-.2 .5-1 .3-1 0-.1 .1-.9-.1-.4-.1-.6-.2-1 0-1 .3-.5 .6-.5 .4-.2 1-.3 1-.2 .6-.3 .4-.8 .1-.2 0-1-.1-.3-.2-.7-.5-1-.3-.6-.2-.4 .2-.6 .2-.4 .8-.9 .2-.1 .8-.3 .9 .3 .1 .1 .3 .9 0 1 .1 1 .1 1 .5 .6 .2 .4 .8 .9 .1 .1 .6 1 .3 .5 .4 .5 .6 .4 .9 .6 .1 .1 .8 .9 .2 .5 .3 .5 .7 .9 .1 .1 .9 .5 .9 .5 .1 0 1 .1 .4-.1 .6-.1 1-.1 1 0 1-.2 1-.4 .6-.2 .4-.3 1-.2 1-.1 1 0 1-.2 1-.1 .2-.1 .8-.6 .2-.4-.1-1-.1-.7 0-.3 0-.4 .1-.6 .9-1 1-.2 .7 .2 .3 .1 1 .2 1-.2 .1-.1 .9-.5 1 0 1 .2 .5 .3 .5 .6 .1 .4 .2 1-.1 1 .8 .8 1 0 1-.1 1-.1 1-.3 .5-.3 .5-.4 .5-.6 .2-1-.1-1 .1-1 .3-.4 .6-.6 .4-.3 .7-.7 .3-.2 .8-.8 .2-.1 1-.6 .8-.3 .2-.1 1-.3 1-.4 1-.2 .1 0 .9-.1 1-.3 .6-.6 .4-.4 .7-.6 .3-.2 .9-.8 .1-.1 .6-.9 .4-.3 .8-.7 .2-.1 1-.4 1 0 1 0 1-.1 .7-.4 .3-.4 .4-.6 .6-.9 .2-.1 .8-.4 1-.5zM325 381.9l-.1 .1-.9 .8-.2 .2-.5 1-.3 1-.5 1-.2 1 .2 1 .5 .6 .3 .4 .7 .6 .8 .4 .2 .1 1 .1 1 .1 1-.2 .3-.1 .7-.3 .9-.7 .1-.1 .5-.9 .5-.8 .1-.2 .7-1 .2-.5 .2-.5-.1-1-.1-.2-1-.6-.9-.2-.1 0-1 0-1-.3-1-.6-.3-.1-.7-.3zM266 379l0-.2 .1 .2-.1 0z"/>
<path fill="#13fce4" d="M334.7 371l.3-.1 1-.3 1-.1 1 .1 .5 .4 .5 .7 .3 .3 .7 .7 1-.3 .6-.4 .4-.3 1 .1 .2 .2 0 1-.1 1 0 1-.1 .7 0 .3-.8 1-.2 .1-.5 .9-.4 1-.1 .7-.1 .3-.1 1 .2 .5 .7 .5 .3 .1 .2-.1 .8-.3 1-.6 .1-.1 .6-1 .1-1-.3-1-.2-1 .7-.8 .2-.2 .8-.5 1-.4 .7-.1 .3-.1 1 0 1-.2 .8-.7 .2-.1 .2 .1 .8 .9 0 .1 0 .1-1 .7-.4 .2-.2 1 .6 .6 .2 .4 .8 .6 .4 .4 .6 .3 1 .3 1-.4 .3-.2 .7-.8 .5-.2 .5-.1 1-.2 1-.3 1-.3 1 0 1 .4 .7 .5 .3 .3 .3 .7 .3 1 .2 1 .2 1 .7 1 .3 .2 1 .5 .5 .3 .5 .5 .4 .5 .5 1 .1 .2 .3 .8 .3 1 .3 1 .1 .5 .2 .5 .2 1 .2 1 0 1-.3 1-.3 .9 0 .1-.3 1 0 1 0 1-.6 1-.1 .1-.7 .9-.3 .3-.6 .7-.4 .3-1 .7-.1 0-.9 .2-1 .1-1 0-1 .2-1 .2-1 .1-1 .1-1 0-1-.1-1-.1-1-.2-1 .1-1 .3-.2 .1-.8 .4-1 .6-.1 0-.9 .2-1 .2-1 0-1-.1-1 .1-1 .2-1 .1-.9 .3-.1 0-1 .3-1 .1-1 .1-1 0-1-.1-1-.4-1-.9-.1-.1-.9-1-.1 0-.9-.7-1 0-1 .3-.8 .4-.2 .1-1 .1-1 0-1 0-1-.2-.1 0-.9-.2-1 .1-.2 .1-.8 .3-1 .4-.5 .3-.5 .3-1 .2-1 0-1-.1-1-.1-.7-.3-.3-.2-1-.5-.4-.3-.6-.4-1-.1-1 .1-1 .1-1 .2-.4 .1-.6 .1-1 .2-1 .3-.7 .4-.3 .2-1 .3-1 .2-1-.2-1-.2-1 .1-1 .4-.4 .2-.6 .3-1 .1-1 0-1-.2-1-.1-1 .1-1 .1-1 .1-1 0-1-.1-1 .2-.6 .5-.4 .3-.7 .7-.3 .3-1 .6-.1 .1-.9 .4-1 .2-1 .1-1 .3-.1 0-.9 .3-1 .2-1 .4-.1 .1-.7 1-.2 .3-.5 .7-.5 .6-.6 .4-.4 .2-1 .1-1 .2-1 .3-.5 .2-.5 .1-.6-.1-.4-.1-1-.2-1 .1-.5 .2-.5 .2-1 .5-.4 .3-.6 .6-.5 .4-.5 .4-1 .3-1 .2-.1 .1-.9 .3-1 .7-.1 0-.9 0-.2 0-.8-.4-1-.4-1 0-1 0-1-.2-1-.5-1-.1-1-.1-1 .3-.5 .4-.5 .4-1 .2-1 0-1 0-.8 .4-.2 .1-1 .2-1 .1-1-.2-.5-.2-.5-.3-1-.5-.7-.2-.3-.2-1-.2-.9 .4-.1 0-1 .5-.8 .5-.2 .2-.9 .8-.1 .1-.6 .9-.4 .9-.1 .1-.9 1-1 .5-1 .5-1 .1-1 .1-1 .6-.4 .2-.6 .3-1 .2-1 .2-1 0-1 .3-1 .1-1 .1-.3-.2 .3-.2 .7-.8 .3-.3 .6-.7 .4-.4 .9-.6 .1 0 1-.6 .5-.4 .5-.3 1-.6 .3-.1 .7-.2 1-.1 1-.1 1-.3 .4-.3 .6-.6 .3-.4 .3-1 .2-1 .2-1 0-.2 .1-.8 .3-1 .4-1 .2-.3 .3-.7 .5-1 .2-.2 .6-.8 .4-.4 1-.6 1-.5 1-.3 1 0 1 .1 1 .1 1 .1 1-.1 1-.4 1-.8 .2-.2 .8-.7 .8-.3 .2-.1 .4 .1 .6 .1 1 .2 1 .3 .8 .4 .2 .1 1 .5 1 0 1-.3 1 0 1 .4 1 .3 1-.6 .5-.4 .5-.2 1-.1 1-.3 .6-.4 .4-.4 .4-.6 .4-1 0-1-.2-1-.1-1 .5-.9 1 .7 .2 .2 .8 .2 .9-.2 .1 0 1-.1 1 0 1-.3 1-.6 1-1 .3-1 .2-1 .2-1 .3-.6 .2-.4 .8-1 .9-1 .1-.1 1-.7 1 0 1 0 1-.1 1 .1 1 .2 1 .2 1 .3 1-.1 1-.2 1-.2 1 0 1 0 1-.1 1-.2 .4-.1 .6-.2 1-.2 1-.2 1-.2 1-.1 .9-.1 .1 0 1-.3 1-.7 0-.1 .7-.9 .3-.7 1-.1 1 .7 .1 .1 .9 .6 .6 .4 .4 .5 .3 .5 .4 1 .3 .5 1 .5 1-.2 1-.5 .3-.3 .7-.4 1-.6 .8-1 .2-.3 .4-.7 .6-.5 .6-.5 .4-.3 1-.7 1-.6 1 0 1 .3 1 .3 1 .7 .3 .3 .7 .7 .4 .3 .6 .3 1 .5 .3 .2 .7 .5 .6 .5 .4 .4 .9 .6 .1 .1 1 .5 1 .4 .3 0 .7 .1 1-.1 .2 0 .8-.2 1-.1 1-.1 1-.3 .8-.3 .2-.2 1-.5 .6-.3 .2-1-.3-1 0-1 .3-1 .2-.8 .1-.2-.1-.2-.1-.8-.5-1-.4-.6-.4-.4-.6-.4-1-.3-1-.3-1-.8-.3-.2 .3-.5 .6-.5 .4-.2 1-.8 .1-1-.1-.2-.4-.8-.1-1 .5-.8 .1-.2 .8-1 .1-.1 .5-.9 .5-.6zM342 384.8l-.1 .2-.1 1 .1 1 .1 .3 1 .1 .3-.4 .5-1-.2-1-.6-.5zM316.6 380l.4-.2 1 .2-.8 1-.2 .1-.8-.1zM270.9 387l.1-.1 1-.3 1-.1 1 .5-.2 1-.8 .7-.6 .3-.4 .2-1-.2-.4-1z"/>
<path fill="#00e0fb" d="M335.2 373l.8-.7 1 0 .5 .7 .3 1 .2 .4 .5 .6 .5 1-1 .8-1-.2-1-.4-.3-.2-.7-.9-.1-.1-.1-1 .2-.5zM359 379l1-.4 1-.1 1 .4 .1 .1 .7 1 .2 .6 .1 .4 .2 1 .3 1 .4 .6 .5 .4 .5 .4 .9 .6 .1 .1 .7 .9 .3 .8 .1 .2 .3 1 .2 1 .3 1 .1 .3 .2 .7 .3 1 .1 1-.2 1-.4 1 0 .1-.2 .9 0 1-.2 1-.6 .9-.1 .1-.7 1-.2 .2-.7 .8-.3 .2-1 .4-1 .2-1 .2-.1 0-.9 .1-1 .2-1 .1-1 .1-1 .1-1-.1-1-.2-1-.1-1 .1-1 .3-.6 .4-.4 .2-1 .4-.8 .4-.2 0-1 .2-1 0-1-.1-1 .1-1 .2-1 .1-1 .3-.7 .2-.3 .1-1 .1-1 .1-1 0-1-.2-.4-.1-.6-.5-.6-.5-.4-.4-.6-.6-.4-.4-1-.5-1 0-1 .1-1 .4-1 .4-.2 0-.8 0-.4 0-.6-.1-1-.3-1-.2-1 .2-.8 .4-.2 .1-1 .3-.9 .6-.1 .1-1 .2-1 0-1-.1-1-.1-.2-.1-.8-.5-1-.5-1-.6-1-.1-1 .1-1 .1-1 .1-1 .2-.5 .2-.5 .1-1 .2-1 .6-.2 .1-.8 .3-1 .1-1-.1-1-.1-1 0-1 .3-.7 .5-.3 .2-1 .1-1-.1-.9-.2-.1-.1-1 0-.9 .1-.1 0-1 .1-1 .1-1 0-1-.1-1 .2-.9 .7-.1 .1-.9 .9-.1 .1-1 .6-.5 .3-.5 .2-1 .2-1 .1-1 .2-.9 .3-.1 0-1 .3-1 .4-.4 .3-.6 1-.7 1-.3 .3-1 .7-.1 0-.9 .1-1 .1-1 .4-1 .3-1-.2-1-.2-1 .1-1 .3-.1 .1-.9 .4-.7 .6-.3 .3-.8 .7-.2 .2-1 .2-1 .2-.8 .4-.2 .1-1 .4-1 0-1-.4-.9-.1-.1 0-1-.1-1 0-1-.3-1-.3-1-.1-1-.1-1 .3-.8 .6-.2 .1-1 .3-1-.1-1 .1-1 .3-.6 .3-.4 .1-1 .1-1-.2-1-.6-.9-.4-.1-.1-1-.5-1-.1-1 .2-.8 .5-.2 .1-1 .4-1 .1-.5-.6-.3-1 .1-1 .2-1 .3-1 .2-.4 .2-.6 .5-1 .3-.6 .4-.4 .6-.5 1-.5 .1 0 .9-.1 1 0 1-.1 1-.1 1 0 1 .1 1-.1 1-.4 .7-.3 .3-.2 1-.2 1 .1 1 0 1 0 1 .3 1 .2 1 0 .6-.2 .4-.1 1-.1 .4 .2 .6 .3 1 .7 .2 0 .8 .1 .3-.1 .7-.6 .3-.4 .7-.8 .4-.2 .6-.2 1-.6 .2-.2 .8-.8 .2-.2 .8-.9 .1-.1 .9-.8 .4-.2 .6-.4 1-.3 1-.1 .7-.2 .3-.1 1-.6 .7-.3 .3-.2 1-.4 .5-.4 .5-.6 .2-.4 .4-1 .4-.7 .3-.3 .7-1 1-.9 .1-.1 .9-1 1-.8 .3-.2 .7-.3 1-.1 1 .2 .8 .2 .2 .1 1 0 1-.1 1-.2 1-.1 1-.1 1-.2 1-.2 1-.2 1-.1 1-.2 1-.1 1-.1 1-.1 1-.2 1-.2 1 0 1 .4 .5 .6 .5 .6 .2 .4 .8 .6 .5 .4 .5 .2 1 0 1-.1 .6-.1 .4-.1 1-.4 .6-.5 .4-.5 .5-.5 .5-.4 .8-.6 .2-.2 .7-.8 .3-.5 .3-.5 .7-.9 .2-.1 .8-.4 1-.2 1-.1 1 0 1 .3 .5 .4 .5 .4 1 .6 1 .5 .9 .5 .1 .1 1 .7 .3 .2 .7 .5 .7 .5 .3 .2 1 .7 .2 .1 .8 .6 1 .3 .3 .1 .7 .5 .4 .5 .6 .5 1 .2 1-.6 .1-.1 .4-1 .5-.6 .3-.4 .7-.5 1-.5 .1 0 .9-.2 1 0 1-.2 1-.2 1 0 1-.2 1-.1 1 .3 1 .4 1 .1 1-.7 .1-.2-.1-.2-.3-.8 0-1 .3-.7 .3-.3 .7-.4 1-.2 .3-.4 .7-.8 .1-.2 .2-1 .4-1 .3-.4 .4-.6 .6-.6 .3-.4 .7-.7 1-.2 1 0 1 0 1-.1 .2 0 .8-.3 1-.5 .2-.2 .8-.5zM336.7 381l.3-.5 1-.1 .1 .6-.1 .3-.9 .7-.1 0zM228.5 421l.5-.1 .7 .1 .3 .1 1 .8 .1 .1-.1 0-1 .3-1 .3-.5 .4-.5 .2-1 .3-1 .1-.4-.6 .4-.3 .6-.7 .4-.3 1-.6z"/>
<path fill="#00c8ff" d="M359.4 380l.6-.3 1 0 .7 .3 .3 .2 .4 .8 .2 1 .3 1 .1 .3 .3 .7 .7 .9 .1 .1 .9 .7 .4 .3 .6 .8 .1 .2 .3 1 .2 1 .2 1 .2 .6 .1 .4 .3 1 .1 1-.1 1-.1 1-.2 1-.1 1-.3 1-.7 1-.8 1-.2 .2-.9 .8-.1 0-1 .3-1 .2-1 .2-1 .2-.6 .1-.4 .1-1 .1-1 .1-1-.1-.9-.2-.1 0-1-.1-.6 .1-.4 .1-1 .3-1 .6-.1 0-.9 .3-1 .4-1 .3-1 0-1-.1-.8 .1-.2 0-1 .1-1 .2-1 .2-1 .3-.7 .2-.3 0-1 .1-1-.1-.4 0-.6-.3-1-.6-.1-.1-.9-.9-.1-.1-.9-.8-.3-.2-.7-.8-.6-.2 .1-1-.2-1-.3-.8-.2-.2 .1-1 .1-.2 .2-.8 .4-1 .4-1 0-.1 1-.7 1-.2 1 .2 1 .2 1 .1 1-.2 .5-.3 .5-.2 1-.2 .8 .4 .2 .1 1 .5 1 .1 1-.1 1-.2 .7-.4 .3-.3 .7-.7 .3-.3 .5-.7 .4-1 0-1 .1-1 0-.1 .3-.9 .4-1 .3-.5 .3-.5 .5-1 .2-.3 .4-.7 .6-.6 1-.3 1-.1 1 0 .3 0 .7-.1 1-.3 1-.5 .1-.1 .9-.7zM313.3 389l.7-.2 1-.1 1 0 .7 .3 .3 .1 1 .6 .6 .3 .4 .2 1 .4 .8 .4 .2 .1 1 .6 .3 .3 .7 .5 .6 .5 .4 .4 .6 .6 .4 .6 .3 .4 .5 1 .2 .4 .4 .6 .6 .9 .2 .1 .5 1 0 1 .3 1 0 .1 1 .8 .1 .1-.1 0-1 .1-1 0-1 0-1 0-1 .2-1 .4-.4 .3-.6 .2-1 .5-.6 .3-.4 .1-1 0-1-.1-.3 0-.7-.3-1-.5-.5-.2-.5-.4-1-.4-1-.1-1 .1-1 .1-1 .1-1 .1-1 .3-.5 .2-.5 .1-1 .3-.9 .6-.1 0-1 .2-1-.1-1-.1-1 .1-1 .2-1 .7-.1 0-.9 .1-.9-.1-.1 0-1-.4-1-.1-1 .1-1 .2-1 .1-1-.2-1-.2-1 .4-.1 .1-.9 .6-.3 .4-.7 .7-.3 .3-.7 .4-.9 .6-.1 0-1 .2-1 .1-1 .1-1 .3-.7 .3-.3 .1-1 .3-.6 .6-.4 .6-.4 .4-.6 1 0 .1-1 .5-1 .2-.7 .2-.3 0-1 .3-1 .3-1-.2-1-.1-1 0-1 .3-.7 .4-.3 .1-1 .9-1 .8-.4 .2-.6 .1-1 .1-1 .2-1 .5-1-.9-.1 0-.9-.4-1 .4-1 .2-1 .2-1-.1-1-.2-.5-.1-.5-.2-1 0-.4 .2-.6 .2-1 .6-.4 .2-.6 .2-1-.1-1 0-1 .2-1 .4-1 .1-1-.3-1-.4-.1-.1-.9-.8-.8-.2-.2-.3-1-.3-.9 .6-.1 0-1 .1-.5-.1-.2-1-.1-1 .1-1 .4-1 .3-.5 .7-.5 .3-.2 1 .1 .4 .1 .6 .2 .2-.2 .8-.4 1-.6 .2 0 .8 0 .2 0 .8 .2 1 .1 1-.2 .3-.1 .7-.2 1 .2 1 .2 1-.1 .4-.1 .6-.2 1 0 1 0 1-.3 1-.3 1 0 1 .5 .5 .3 .5 .3 1 .4 1 .2 .9-.9 .1-.1 .6-.9 .4-.5 .4-.5 .6-.4 .6-.6 .4-.4 .6-.6 .4-.4 .7-.6 .3-.3 1-.5 .6-.2 .4-.1 1-.2 1-.2 1-.4 .1-.1 .9-.6 .9-.4 .1 0 1-.6 .3-.4 .7-.9 .1-.1 .6-1 .3-.3 .8-.7 .2-.1 1-.8 .1-.1 .9-1 .6-1 .4-.6 .7-.4 .3-.1 1 0 .2 .1 .8 .2 1 .1 1 .1 1-.2 .9-.2 .1 0 1-.3 1-.3 1-.3 .6-.1 .4-.1 1-.1 1 0 1 0 1 .1 1 0 .9 .1 .1 0 1 .3 1 .7 1 .4 1 .5 .2 .1 .8 .3 1 .4 1 .2 1-.2 1-.2 1-.4 .2-.1 .8-.6 .5-.4 .5-.5 .4-.5 .6-.6 .5-.4 .5-.3 .8-.7 .2-.4 .3-.6 .7-.8z"/>
<path fill="#00acff" d="M359.9 381l.1 0 1-.2 .2 .2 .7 1 .1 .2 .2 .8 .3 1 .4 1 .1 .1 .7 .9 .3 .4 .8 .6 .2 .3 .4 .7 .2 1 .2 1 .2 1 0 .2 .2 .8 .3 1 .1 1 0 1-.1 1-.2 1-.3 .7-.1 .3-.9 1-.9 1-.1 .1-1 .6-.8 .3-.2 0-1 .3-1 .2-1 .2-1 .2-1 .1-1-.1-1-.1-1-.1-1 .1-.4 .2-.6 .2-1 .4-1 .3-.2 .1-.8 .2-1 .3-1 0-1-.1-1 .1-1 .3-.6 .2-.4 .1-1 .1-1 .2-1 .2-1 0-1-.3-.7-.3-.3-.2-1-.7-.1-.1-.9-.9-.1-.1-.6-1-.3-1 0-.2-.2-.8-.1-1 .1-1 .1-1 .1-.7 .2-.3 .8-.4 1 .3 .1 .1 .9 .7 .8 .3 .2 .1 .3-.1 .7-.2 1-.8 1-.1 .2 .1 .8 .4 1 .2 1-.2 1-.3 .8-.1 .2 0 1-.3 .9-.7 .1-.2 .6-.8 .4-.5 .3-.5 .6-1 .1-.8 0-.2 0-.4 0-.6 0-.3 .1-.7 .3-1 .6-.9 .1-.1 .6-1 .3-.6 .2-.4 .8-.8 .5-.2 .5-.1 1 0 1-.1 1 0 1 0 1-.6 .1-.2zM315.3 391l.7-.4 1 .2 .5 .2 .5 .2 1 .3 1 .1 1 .4 1 .6 .5 .4 .5 .5 .5 .5 .5 .9 .1 .1 .4 1 .4 1 .1 .4 .2 .6 .1 1-.1 1-.2 .7-.1 .3-.9 .8-.2 .2-.8 .3-1 .6-.1 .1-.9 .3-1 .3-1 .1-1-.2-1-.2-.8-.3-.2-.2-1-.6-.6-.2-.4-.3-1-.1-1 .2-.6 .2-.4 0-1 .1-1 .1-1 .2-1 .2-1 .3-.1 .1-.9 .3-1 .6-1-.1-1-.2-1 .1-.5 .3-.5 .1-1 .4-1 .3-1-.2-1-.3-1-.1-1 0-1 .1-1-.1-.6-.2-.4-.6-.6-.4-.4-.2-.4 .2-.6 .4-.4 .6-.6 1-.8 1-.2 .2-.8 .8-.2 .1-1 .5-.9 .4-.1 0-1 .1-1 0-1 .2-1 .4-.5 .3-.5 .2-.9 .8-.1 .2-.7 .8-.3 .5-.5 .5-.5 .3-1 .1-1 .1-.8 .5-.2 .1-1 .1-1 0-1-.1-1 0-1 .1-1 .4-.5 .4-.5 .3-.8 .7-.2 .1-1 .3-1-.2-.3-.2 0-1 .1-1-.2-1 .1-1 .3-.7 .2-.3 .5-1 .3-.5 .2-.5 .8-1 1-.8 .3-.2 .7-.4 1-.4 1-.2 1 .1 .6-.1 .4 0 1-.8 .2-.2 .8-.6 .6-.4 .4-.2 .7-.8 .3-.3 .4-.7 .6-.8 .1-.2 .9-1 1-.9 .2-.1 .8-.7 .3-.3 .7-.8 .2-.2 .8-.7 1-.2 1 .1 1 .2 1 .1 1 0 1-.4 .4-.1 .6-.2 1-.3 1-.5 .1 0 .9-.2 1-.2 1 .1 1 .2 .5 .1 .5 .2 1 .5 1 .3 .2 0 .8 .1 1 .3 1 .3 1 .3 1 .4 1 .4 .4 .2 .6 .3 1 .3 1-.1 1-.4 .2-.1 .8-.4 .9-.6 .1-.1 .9-.9 .1-.1 .7-.9 .3-.3 1-.3 1 .3 1 0 1-.7 0-.2 .2-.8zM254.6 411l.4-.1 1-.1 .6 .2 .4 .2 .8 .8 .2 .9 0 .1-.7 1-.3 .4-.5 .6-.5 .4-1 .2-1-.2-1-.2-1 .1-1 .5-.3 .2-.7 .4-1 .2-1-.5-.3-.1 .2-1-.3-1 0-1 .4-.2 1-.7 .5-.1 .5-.1 1-.2 1 0 1-.1 1-.3zM243 412l1-.1 .6 .1 .4 .1 .9 .9-.3 1 0 1 .3 1-.8 1-.1 0-1 .1-.8-.1-.2-.1-.9-.9 0-1 0-1 .2-1z"/>
<path fill="#0090ff" d="M354.6 384l.4-.1 1-.2 1 0 1 .2 1 .1 1-.4 1-.3 .3 .7 .7 1 .5 1 .4 1 .1 .1 .6 .9 .4 .6 .2 .4 .4 1 .3 1 .1 .4 .2 .6 .3 1 .3 1 .1 1 0 1-.3 1-.6 1-1 .9-.2 .1-.8 .7-.3 .3-.7 .4-1 .3-.8 .3-.2 0-1 .3-1 .3-1 .1-1 0-1-.1-1-.1-1 .1-1 .3-.2 .1-.8 .2-1 .1-1 .2-1 .2-1 0-1-.2-1 .3-.2 .2-.8 .2-1 .2-1 .3-1 .3-1 .1-.4-.1-.6-.2-1-.8-1-.6-.6-.4-.4-.5-.3-.5-.4-1-.1-1 .8-.7 1-.1 1 .1 1-.1 .6-.2 .4-.3 1-.4 1 .1 1 0 1-.2 .4-.2 .6-.3 1-.2 1-.3 .5-.2 .5-.3 .6-.7 .4-.6 .2-.4 .7-1 .1-.2 .5-.8 .3-1 .1-1 0-1 .1-.7 0-.3 .5-1 .5-.6 .5-.4 .5-.6 .5-.4 .5-.6zM319 393l1-.3 1 .2 .2 .1 .8 .6 .4 .4 .6 .9 .1 .1 .3 1 .2 1 .2 1 0 1-.1 1-.4 1-.3 .4-.6 .6-.4 .2-1 .4-1 .2-1 .1-1-.4-.7-.5-.3-.2-.9-.8-.1-.1-.4-.9 0-1 0-1-.2-1-.1-1 .4-1 .3-.4 .7-.6 .3-.3 1-.3zM290.3 395l.7-.3 1-.3 1 0 1 .3 .5 .3 .5 .4 .8 .6 .2 .2 1 .4 1-.1 1 0 1 .2 1 .3 .1 0 .9 .4 1 .5 .1 .1 .9 .7 .4 .3 .5 1-.2 1-.5 1-.2 .5-.3 .5-.7 .1-1 .1-1 .1-1 .3-.6 .4-.4 .1-1 .2-1-.2-.6-.1-.4-.3-1-.3-1 0-1-.1-.4-.3-.6-.6-.4-.4-.6-.6-1-.2-1 .2-.9 .6-.1 .2-.3 .8-.3 1-.4 1 0 .1-.6 .9-.4 .4-.6 .6-.4 .1-1 .3-1 0-1 0-1 .3-.3 .3-.7 .2-1 .6-.3 .2-.7 .5-.6 .5-.4 .6-.3 .4-.7 .8-1 .1-1-.9-.5-1-.5-.4-1 0-.3 .4-.1 1 .4 .4 .6 .6-.6 .3-1 .1-1-.1-1 0-1 .1-.7-.4-.2-1-.1-.3-.2-.7-.1-1 .3-.4 1-.6 1-.3 1 0 1 .1 1-.2 .8-.6 .2-.2 1-.7 .4-.1 .2-1 .3-1 .1-.2 .4-.8 .4-1 .2-.3 .5-.7 .5-.8 .2-.2 .8-.8 .2-.2 .8-.7 .3-.3 .7-.6 .5-.4 .5-.4 1-.3 1 0 1 .1 1 .2 1-.1 1-.2 .9-.3 .1 0 1-.2 1-.5zM306.6 401l.4-.5 1-.3 1 .5 .4 .3-.4 .1-1 .5-1-.3zM249.7 414l.3-.2 1 .2 .1 1-.1 0-1 .4-.4-.4z"/>
<path fill="#0078ff" d="M355.4 385l.6-.3 1-.1 1 .1 1 .2 .9 .1 .1 0 1 .5 .3 .5 .5 1 .2 .4 .3 .6 .5 1 .2 .3 .5 .7 .4 1 .1 .2 .3 .8 .3 1 .3 1 .1 .3 .1 .7 0 1-.1 .5-.2 .5-.8 .8-.2 .2-.8 .6-.5 .4-.5 .5-.8 .5-.2 .1-1 .4-1 .5-.1 0-.9 .3-1 .2-1 0-1-.1-1 0-1-.1-1 .1-1 0-1-.1-1-.1-.4-.2-.6-1-.5-1 .5-.3 .5-.7 .5-.8 0-.2 .6-1 .4-1 .4-1 .5-1 .1-.2 .3-.8 .3-1 .1-1 0-1 .3-1 .7-1 .3-.3 1-.6 .1-.1 .9-.8zM320.3 395l.7-.4 .3 .4-.3 .5zM291.2 396l.8-.6 1-.1 1 .5 .3 .2 .7 .9 .1 .1 .5 1 .1 1-.2 1-.5 .5-.6 .5-.4 .1-.3-.1-.7-.3-.5-.7-.5-.5-.3-.5-.4-1-.3-1zM280.7 398l.3-.2 1-.3 1 .1 1 .1 1 .2 1 .1 1 .4 .3 .6-.3 .8 0 .2-.5 1-.1 1-.2 1-.1 1-.1 .2-.6 .8-.4 .4-1 .1-1-.3-.8-.2 .2-1 0-1-.4-.9-.2-.1-.8-.2-1-.1-1 0-.7 .3-.3 .2-.1-.2 .1-.8 0-.2 .8-1 .2-.2 .5-.8 .5-.4zM298.7 398l.3-.1 1 0 .5 .1 .5 .2 1 .5 .4 .3 .5 1-.4 1-.5 .6-.5 .4-.5 .2-1 .4-1 .2-1-.2-.7-.6-.3-.7-.2-.3-.4-1 .6-.6 .2-.4 .8-.5zM341.1 399l.9-.1 1 0 .8 .1 0 1-.3 1-.4 1-.1 .1-1 .8-.3 .1-.7 .1-1 0-.2-.1-.8-.4-1-.6-.9-1-.1-1 1-.4 1-.2 1-.1 1-.3z"/>
<path fill="#005cff" d="M355.5 386l.5-.3 1-.3 1 0 1 .3 .9 .3 .1 0 .9 1 .1 .2 .4 .8 .6 1 0 .1 .6 .9 .4 .9 .1 .1 .3 1 .3 1 .3 1 0 .1 .2 .9 0 1-.2 .5-.3 .5-.7 .6-.5 .4-.5 .4-.7 .6-.3 .3-1 .6-.1 .1-.9 .5-.8 .5-.2 .1-1 .2-1 .1-1-.2-1 0-1-.1-.7-.1-.3-.2-.8-.8-.2-.4-.4-.6-.1-1 .2-1 .3-1 .2-1 .1-1 .4-1 .3-.7 .1-.3 .2-1 .1-1 .1-1 .4-1 .1-.1 1-.8 .1-.1 .9-.6zM339.3 401l.7-.2 1 .1 .1 .1-.1 .4-1 .3z"/>
<path fill="#0044ff" d="M355.6 387l.4-.3 1-.5 1 0 1 .4 .7 .4 .3 .3 .5 .7 .5 .6 .3 .4 .6 1 .1 .3 .3 .7 .3 1 .2 1 .2 1 0 .4 .1 .6-.1 1 0 .1-.7 .9-.3 .3-.7 .7-.3 .3-.7 .7-.3 .2-.9 .8-.1 .1-1 .6-.6 .3-.4 .1-1 .1-1-.1-1-.1-1-.4-.7-.6-.3-.5-.3-.5-.3-1 .2-1 .2-1 .2-1 .1-1 .3-1 .3-1 .2-1 .1-.7 0-.3 .3-1 .7-1 .1 0 .9-.6z"/>
<path fill="#0028ff" d="M356.2 388l.8-.5 1 0 1 .4 .1 .1 .9 .6 .4 .4 .6 .7 .2 .3 .4 1 .3 1 .1 .7 .1 .3-.1 1 0 .3-.1 .7-.2 1-.6 1-.1 .1-.6 .9-.4 .4-.5 .6-.5 .5-.4 .5-.6 .4-1 .5-1 .1-1-.2-1-.2-1-.6-.6-1-.2-1 .1-1 .1-1 .2-1 .1-1 .3-1 0-.2 .2-.8 .3-1 .2-1 .3-.7 .3-.3 .7-.5 1-.4z"/>
<path fill="#0010ff" d="M354.7 390l.3-.4 1-.2 1 0 1-.1 1 0 1 .4 .3 .3 .6 1 .1 .3 .2 .7 .2 1 0 1-.4 1 0 .1-.2 .9-.4 1-.4 .5-.3 .5-.7 .9-.1 .1-.9 1-1 .6-1 .1-1-.2-1-.3-.3-.2-.6-1-.1-.4-.2-.6 .1-1 .1-.9 0-.1 .2-1 .1-1 .2-1 .3-1 .2-.6 .2-.4z"/>
<path fill="#0000ff" d="M355 391l1-.5 1 0 1-.1 1 .1 1 .5 .6 1 .3 1-.1 1-.3 1-.3 1-.2 .3-.3 .7-.6 1-.1 .2-.6 .8-.4 .5-.5 .5-.5 .3-1 .1-1-.2-.6-.2-.4-.6-.2-.4-.3-1 0-1 .1-1 .1-1 .1-1 .2-.8 .1-.2 .4-1 .5-1z"/>
<path fill="#0000e3" d="M355.4 392l.6-.5 1-.1 1-.1 1 .1 .8 .6 .2 .3 .3 .7 0 1-.3 .8-.1 .2-.3 1-.4 1-.2 .4-.4 .6-.6 .8-.2 .2-.8 .9-.2 .1-.8 .1-.6-.1-.4-.3-.4-.7-.3-1-.1-1 0-1 0-1 .2-1 .3-1 .3-.6z"/>
<path fill="#0000c8" d="M355.6 393l.4-.4 1-.4 1-.1 1 .2 .7 .7 0 1-.3 1-.3 1-.1 .3-.3 .7-.7 1-.9 1-.1 .1-1 .2-.4-.3-.2-1-.3-1-.1-.2-.1-.8 0-1 .1-.7 .1-.3z"/>
<path fill="#0000a8" d="M357.4 393l.6-.1 .4 .1 .6 .5 .1 .5-.1 .5-.2 .5-.3 1-.5 1-1 .6-.7-.6-.3-.5-.2-.5-.1-1 .3-1 1-.9z"/>
</g>
<g shape-rendering="crispEdges">
<path fill="#90ff66" d="M397.3 182.5h2.6v3h.8v5h-.8v12h.8v3h-.8v3h-2.6zM398 210.3h1.6v1.4h-1.6zM397.6 225.7h2v8.6h-2zM397.3 237.7h2.7v6h.8v5h-.8v10h-.6v4h-2.1zM347.5 580.5l1-1.5h27.5v2.8l-2 .2-2 1-2 1h-4v-1h-6l-1-1-1 1-1 1h-2v-1h-6zM378 579h1v1h-1z"/>
<path fill="#66ff90" d="M398.3 458.8h1.5v3.7h-1.5zM398.3 472.3h1.5v7.7h-1.5zM398.3 484h1.4v12h.6v3h-.6v16h.6v3h-.6v20h-1.4z"/>
</g>
<g shape-rendering="crispEdges">
<rect x="941" y="610" width="26.5" height="13.5" fill="#00008d"/>
<rect x="941" y="596" width="26.5" height="14" fill="#0000a8"/>
<rect x="941" y="582" width="26.5" height="14" fill="#0000c8"/>
<rect x="941" y="568" width="26.5" height="14" fill="#0000e3"/>
<rect x="941" y="554" width="26.5" height="14" fill="#0000ff"/>
<rect x="941" y="541" width="26.5" height="13" fill="#0010ff"/>
<rect x="941" y="527" width="26.5" height="14" fill="#0028ff"/>
<rect x="941" y="513" width="26.5" height="14" fill="#0044ff"/>
<rect x="941" y="499" width="26.5" height="14" fill="#005cff"/>
<rect x="941" y="485" width="26.5" height="14" fill="#0078ff"/>
<rect x="941" y="471" width="26.5" height="14" fill="#0090ff"/>
<rect x="941" y="458" width="26.5" height="13" fill="#00acff"/>
<rect x="941" y="444" width="26.5" height="14" fill="#00c8ff"/>
<rect x="941" y="430" width="26.5" height="14" fill="#00e0fb"/>
<rect x="941" y="416" width="26.5" height="14" fill="#13fce4"/>
<rect x="941" y="402" width="26.5" height="14" fill="#26ffd1"/>
<rect x="941" y="389" width="26.5" height="13" fill="#3cffba"/>
<rect x="941" y="375" width="26.5" height="14" fill="#50ffa7"/>
<rect x="941" y="361" width="26.5" height="14" fill="#66ff90"/>
<rect x="941" y="347" width="26.5" height="14" fill="#7dff7a"/>
<rect x="941" y="333" width="26.5" height="14" fill="#90ff66"/>
<rect x="941" y="319" width="26.5" height="14" fill="#a7ff50"/>
<rect x="941" y="306" width="26.5" height="13" fill="#baff3c"/>
<rect x="941" y="292" width="26.5" height="14" fill="#d1ff26"/>
<rect x="941" y="278" width="26.5" height="14" fill="#e4ff13"/>
<rect x="941" y="264" width="26.5" height="14" fill="#fbf100"/>
<rect x="941" y="250" width="26.5" height="14" fill="#ffdb00"/>
<rect x="941" y="237" width="26.5" height="13" fill="#ffc100"/>
<rect x="941" y="223" width="26.5" height="14" fill="#ffa700"/>
<rect x="941" y="209" width="26.5" height="14" fill="#ff9100"/>
<rect x="941" y="195" width="26.5" height="14" fill="#ff7700"/>
<rect x="941" y="181" width="26.5" height="14" fill="#ff6000"/>
<rect x="941" y="167" width="26.5" height="14" fill="#ff4700"/>
<rect x="941" y="154" width="26.5" height="13" fill="#ff3000"/>
<rect x="941" y="140" width="26.5" height="14" fill="#ff1600"/>
<rect x="941" y="126" width="26.5" height="14" fill="#e40000"/>
<rect x="941" y="112" width="26.5" height="14" fill="#c80000"/>
<rect x="941" y="98" width="26.5" height="14" fill="#a80000"/>
<rect x="941" y="84" width="26.5" height="14" fill="#8d0000"/>
</g>
<g fill="none" stroke="#000" stroke-width="1.111" stroke-linejoin="miter">
<rect x="150.5" y="84.5" width="744" height="539"/>
<rect x="941.6" y="84.5" width="25.85" height="539"/>
<path d="M212.50 623.50v4.86 M336.50 623.50v4.86 M460.50 623.50v4.86 M584.50 623.50v4.86 M708.50 623.50v4.86 M832.50 623.50v4.86 M150.50 129.50h-4.86 M150.50 241.50h-4.86 M150.50 354.50h-4.86 M150.50 466.50h-4.86 M150.50 578.50h-4.86 M967.95 84.50h4.86 M967.95 219.50h4.86 M967.95 354.50h4.86 M967.95 488.50h4.86 M967.95 623.50h4.86"/>
</g>
<g class="s t20" text-anchor="middle">
<text x="212.90" y="654.70">0</text>
<text x="335.70" y="654.70">10</text>
<text x="459.70" y="654.70">20</text>
<text x="583.70" y="654.70">30</text>
<text x="707.70" y="654.70">40</text>
<text x="831.70" y="654.70">50</text>
</g>
<g class="s t20" text-anchor="end">
<text x="140.80" y="588.68">−10</text>
<text x="140.80" y="477.39">−5</text>
<text x="140.60" y="364.10">0</text>
<text x="140.60" y="251.81">5</text>
<text x="140.80" y="139.52">10</text>
</g>
<g class="s t15" text-anchor="start">
<text x="977.40" y="631.20">−<tspan dx="-1.3">66.8</tspan></text>
<text x="977.40" y="496.45">−<tspan dx="-1.3">33.4</tspan></text>
<text x="977.40" y="361.70">0.0</text>
<text x="977.40" y="226.95">33.4</text>
<text x="977.40" y="92.20">66.8</text>
</g>
<text class="m t20" text-anchor="middle" letter-spacing="0.026" x="522.70" y="75.70">by_averaged at 190.100496 fs</text>
<text class="m t20" text-anchor="start" x="468.40" y="690.30">X [<tspan class="i">μm</tspan>]</text>
<text class="m t20" text-anchor="start" transform="translate(67.30 407.10) rotate(-90)">Z [<tspan class="i">μm</tspan>]</text>
<text class="m t20" text-anchor="middle" transform="translate(1067.80 354.00) rotate(-90)">Normalized magnetic field</text>
</svg>
</body></html>
